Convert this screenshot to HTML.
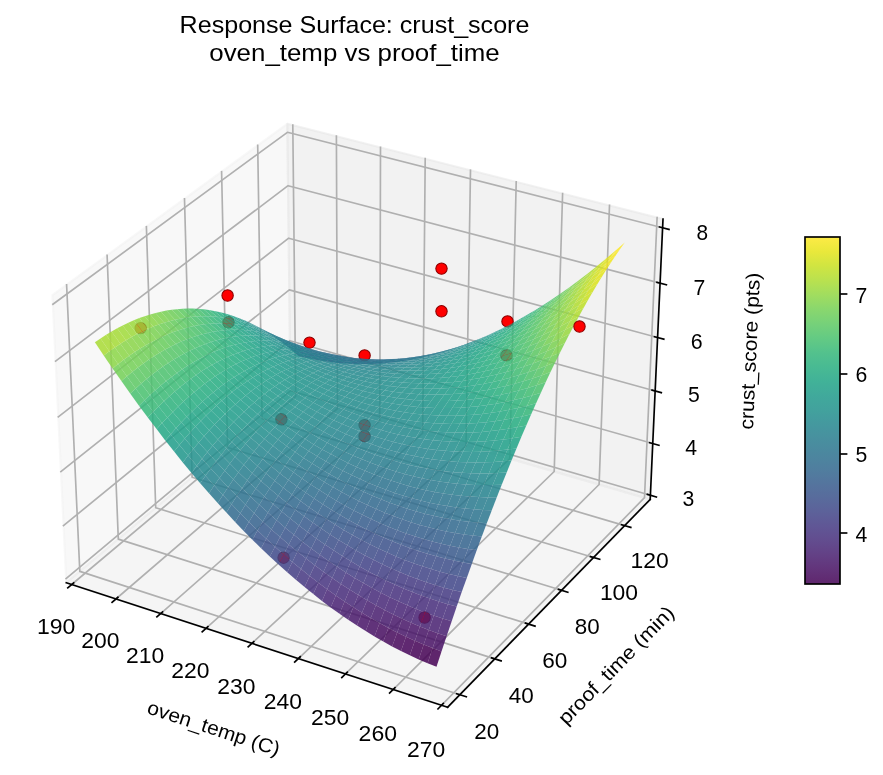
<!DOCTYPE html>
<html lang="en">
<head>
<meta charset="utf-8">
<title>Response Surface: crust_score</title>
<style>
html,body{margin:0;padding:0;background:#fff}
svg{display:block;will-change:transform}
text{font-family:"Liberation Sans",sans-serif;fill:#000}
</style>
</head>
<body>
<svg width="883" height="775" viewBox="0 0 883 775">
<rect width="883" height="775" fill="#fff"/>
<g id="panes">
<polygon points="66.3,582.7 290.5,394.8 287.3,123.8 52.4,295.2" fill="#f2f2f2" fill-opacity="0.5" stroke="#f2f2f2" stroke-opacity="0.5" stroke-width="2.08" stroke-linejoin="round"/>
<polygon points="290.5,394.8 650.2,499.4 663,219 287.3,123.8" fill="#e6e6e6" fill-opacity="0.5" stroke="#e6e6e6" stroke-opacity="0.5" stroke-width="2.08" stroke-linejoin="round"/>
<polygon points="66.3,582.7 447.6,707.3 650.2,499.4 290.5,394.8" fill="#ececec" fill-opacity="0.5" stroke="#ececec" stroke-opacity="0.5" stroke-width="2.08" stroke-linejoin="round"/>
</g>
<g id="grid" fill="none" stroke="#b0b0b0" stroke-width="1.67" stroke-linejoin="round" stroke-linecap="square">
<polyline points="71.7,584.5 295.7,396.3 292.8,125.2"/>
<polyline points="115.9,599 337.5,408.5 336.4,136.2"/>
<polyline points="160.7,613.6 379.8,420.8 380.5,147.4"/>
<polyline points="206,628.4 422.7,433.2 425.2,158.7"/>
<polyline points="251.9,643.4 466,445.8 470.5,170.2"/>
<polyline points="298.4,658.5 509.8,458.6 516.2,181.8"/>
<polyline points="345.5,673.9 554.2,471.5 562.6,193.6"/>
<polyline points="393.2,689.5 599.1,484.5 609.5,205.4"/>
<polyline points="441.5,705.3 644.5,497.7 657.1,217.5"/>
<polyline points="66.6,284.9 79.8,571.4 459.9,694.7"/>
<polyline points="107.1,255.3 118.3,539.1 494.8,658.9"/>
<polyline points="146.4,226.7 155.7,507.7 528.7,624.1"/>
<polyline points="184.5,198.8 192.1,477.2 561.6,590.3"/>
<polyline points="221.6,171.7 227.6,447.5 593.6,557.5"/>
<polyline points="257.7,145.4 262.1,418.6 624.7,525.6"/>
<polyline points="650.4,495.3 290.4,390.8 66.1,578.5"/>
<polyline points="652.8,443.5 289.8,340.7 63.5,525.6"/>
<polyline points="655.2,391 289.3,289.9 60.9,471.7"/>
<polyline points="657.6,337.5 288.7,238.2 58.3,416.9"/>
<polyline points="660.1,283.1 288.1,185.7 55.6,361.1"/>
<polyline points="662.6,227.8 287.4,132.3 52.9,304.3"/>
</g>
<g id="axes" fill="none" stroke="#000" stroke-width="1.67" stroke-linecap="square">
<path d="M66.3 582.7L447.6 707.3"/>
<path d="M650.2 499.4L447.6 707.3"/>
<path d="M650.2 499.4L663 219"/>
</g>
<g id="ticks" fill="none" stroke="#000" stroke-width="1.67" stroke-linecap="square">
<path d="M73.7 582.9L67.8 587.8"/>
<path d="M117.9 597.3L112.1 602.3"/>
<path d="M162.6 611.9L156.9 616.9"/>
<path d="M207.9 626.7L202.2 631.8"/>
<path d="M253.8 641.6L248.2 646.8"/>
<path d="M300.2 656.8L294.7 662"/>
<path d="M347.3 672.2L341.8 677.5"/>
<path d="M395 687.7L389.6 693.1"/>
<path d="M443.3 703.5L438 708.9"/>
<path d="M456.7 693.7L466.3 696.8"/>
<path d="M491.6 657.9L501.1 660.9"/>
<path d="M525.5 623.1L535 626.1"/>
<path d="M558.5 589.4L567.8 592.2"/>
<path d="M590.5 556.6L599.7 559.3"/>
<path d="M621.6 524.7L630.8 527.4"/>
<path d="M647.4 494.4L656.4 497"/>
<path d="M649.7 442.7L658.9 445.3"/>
<path d="M652.1 390.1L661.3 392.7"/>
<path d="M654.5 336.7L663.8 339.2"/>
<path d="M657 282.3L666.4 284.8"/>
<path d="M659.5 227L669 229.4"/>
</g>
<g id="ticklabels" font-size="22.1" text-anchor="middle">
<text x="56.1" y="633.7" textLength="38.4" lengthAdjust="spacingAndGlyphs">190</text>
<text x="100.3" y="648.4" textLength="38.2" lengthAdjust="spacingAndGlyphs">200</text>
<text x="145.1" y="663.3" textLength="38.2" lengthAdjust="spacingAndGlyphs">210</text>
<text x="190.4" y="678.3" textLength="38.2" lengthAdjust="spacingAndGlyphs">220</text>
<text x="236.4" y="693.6" textLength="38.2" lengthAdjust="spacingAndGlyphs">230</text>
<text x="282.9" y="709" textLength="38.2" lengthAdjust="spacingAndGlyphs">240</text>
<text x="330.1" y="724.7" textLength="38.2" lengthAdjust="spacingAndGlyphs">250</text>
<text x="377.8" y="740.5" textLength="38.4" lengthAdjust="spacingAndGlyphs">260</text>
<text x="426.2" y="756.6" textLength="38.2" lengthAdjust="spacingAndGlyphs">270</text>
<text x="486.7" y="739.3" textLength="25" lengthAdjust="spacingAndGlyphs">20</text>
<text x="521.2" y="703" textLength="25" lengthAdjust="spacingAndGlyphs">40</text>
<text x="554.8" y="667.8" textLength="25.1" lengthAdjust="spacingAndGlyphs">60</text>
<text x="587.3" y="633.6" textLength="24.9" lengthAdjust="spacingAndGlyphs">80</text>
<text x="619" y="600.4" textLength="38.2" lengthAdjust="spacingAndGlyphs">100</text>
<text x="649.7" y="568.1" textLength="38.2" lengthAdjust="spacingAndGlyphs">120</text>
<text x="688.5" y="506.4" textLength="11.8" lengthAdjust="spacingAndGlyphs">3</text>
<text x="691.1" y="454.8" textLength="11.8" lengthAdjust="spacingAndGlyphs">4</text>
<text x="693.9" y="402.3" textLength="11.8" lengthAdjust="spacingAndGlyphs">5</text>
<text x="696.6" y="348.9" textLength="11.9" lengthAdjust="spacingAndGlyphs">6</text>
<text x="699.4" y="294.7" textLength="11.8" lengthAdjust="spacingAndGlyphs">7</text>
<text x="702.3" y="239.5" textLength="11.6" lengthAdjust="spacingAndGlyphs">8</text>
</g>
<g id="points" fill="#ff0000" stroke="#8b0000" stroke-width="1.04">
<circle cx="140.7" cy="328.1" r="5.7"/>
<circle cx="227.6" cy="295.5" r="5.7"/>
<circle cx="228.5" cy="322.3" r="5.7"/>
<circle cx="281.4" cy="419.3" r="5.7"/>
<circle cx="283.6" cy="557.7" r="5.7"/>
<circle cx="309.5" cy="342.6" r="5.7"/>
<circle cx="364.6" cy="355.4" r="5.7"/>
<circle cx="364.6" cy="425.1" r="5.7"/>
<circle cx="364.6" cy="436.2" r="5.7"/>
<circle cx="424.6" cy="617.5" r="5.7"/>
<circle cx="441.5" cy="268.6" r="5.7"/>
<circle cx="441.5" cy="311.3" r="5.7"/>
<circle cx="507.5" cy="321.4" r="5.7"/>
<circle cx="506.4" cy="355.4" r="5.7"/>
</g>
<g id="surface" fill-opacity=".85" stroke="none">
<path d="M293.9 352L301.7 354.1L306.5 358L298.7 356.2Z" fill="#443b84"/>
<path d="M301.7 354.1L309.6 355.9L314.3 359.6L306.5 358Z" fill="#433d84"/>
<path d="M309.6 355.9L317.5 357.5L322.2 360.9L314.3 359.6Z" fill="#433e85"/>
<path d="M289.1 348L297 350.4L301.7 354.1L293.9 352Z" fill="#404688"/>
<path d="M317.5 357.5L325.3 358.9L330 362L322.2 360.9Z" fill="#423f85"/>
<path d="M297 350.4L304.8 352.5L309.6 355.9L301.7 354.1Z" fill="#3f4788"/>
<path d="M325.3 358.9L333.3 360L337.9 362.9L330 362Z" fill="#424086"/>
<path d="M304.8 352.5L312.7 354.3L317.5 357.5L309.6 355.9Z" fill="#3f4788"/>
<path d="M333.3 360L341.2 360.9L345.8 363.5L337.9 362.9Z" fill="#424186"/>
<path d="M284.3 344.2L292.2 346.8L297 350.4L289.1 348Z" fill="#3c508b"/>
<path d="M312.7 354.3L320.6 356L325.3 358.9L317.5 357.5Z" fill="#3f4889"/>
<path d="M292.2 346.8L300.1 349.2L304.8 352.5L297 350.4Z" fill="#3c508b"/>
<path d="M341.2 360.9L349.1 361.6L353.8 363.9L345.8 363.5Z" fill="#414487"/>
<path d="M320.6 356L328.6 357.4L333.3 360L325.3 358.9Z" fill="#3e4989"/>
<path d="M300.1 349.2L308 351.3L312.7 354.3L304.8 352.5Z" fill="#3c508b"/>
<path d="M349.1 361.6L357.1 362L361.7 364.1L353.8 363.9Z" fill="#404688"/>
<path d="M328.6 357.4L336.5 358.5L341.2 360.9L333.3 360Z" fill="#3e4a89"/>
<path d="M279.4 340.6L287.3 343.5L292.2 346.8L284.3 344.2Z" fill="#375a8c"/>
<path d="M308 351.3L315.9 353.2L320.6 356L312.7 354.3Z" fill="#3b518b"/>
<path d="M357.1 362L365.1 362.2L369.7 364L361.7 364.1Z" fill="#3e4989"/>
<path d="M287.3 343.5L295.3 346.1L300.1 349.2L292.2 346.8Z" fill="#38598c"/>
<path d="M336.5 358.5L344.5 359.4L349.1 361.6L341.2 360.9Z" fill="#3e4c8a"/>
<path d="M315.9 353.2L323.8 354.9L328.6 357.4L320.6 356Z" fill="#3b518b"/>
<path d="M295.3 346.1L303.2 348.5L308 351.3L300.1 349.2Z" fill="#38598c"/>
<path d="M344.5 359.4L352.4 360.1L357.1 362L349.1 361.6Z" fill="#3d4e8a"/>
<path d="M365.1 362.2L373.1 362.1L377.7 363.7L369.7 364Z" fill="#3e4c8a"/>
<path d="M323.8 354.9L331.8 356.3L336.5 358.5L328.6 357.4Z" fill="#3b528b"/>
<path d="M274.6 337.2L282.5 340.3L287.3 343.5L279.4 340.6Z" fill="#33628d"/>
<path d="M303.2 348.5L311.1 350.7L315.9 353.2L308 351.3Z" fill="#38598c"/>
<path d="M352.4 360.1L360.4 360.6L365.1 362.2L357.1 362Z" fill="#3c508b"/>
<path d="M331.8 356.3L339.8 357.5L344.5 359.4L336.5 358.5Z" fill="#3a538b"/>
<path d="M373.1 362.1L381.1 361.8L385.7 363.1L377.7 363.7Z" fill="#3c4f8a"/>
<path d="M282.5 340.3L290.4 343.2L295.3 346.1L287.3 343.5Z" fill="#34618d"/>
<path d="M311.1 350.7L319.1 352.6L323.8 354.9L315.9 353.2Z" fill="#375a8c"/>
<path d="M290.4 343.2L298.4 345.9L303.2 348.5L295.3 346.1Z" fill="#34618d"/>
<path d="M360.4 360.6L368.5 360.8L373.1 362.1L365.1 362.2Z" fill="#3a538b"/>
<path d="M339.8 357.5L347.8 358.4L352.4 360.1L344.5 359.4Z" fill="#39558c"/>
<path d="M381.1 361.8L389.2 361.3L393.7 362.3L385.7 363.1Z" fill="#3a538b"/>
<path d="M319.1 352.6L327.1 354.3L331.8 356.3L323.8 354.9Z" fill="#375a8c"/>
<path d="M269.7 333.9L277.6 337.4L282.5 340.3L274.6 337.2Z" fill="#306a8e"/>
<path d="M298.4 345.9L306.3 348.3L311.1 350.7L303.2 348.5Z" fill="#34618d"/>
<path d="M347.8 358.4L355.8 359.2L360.4 360.6L352.4 360.1Z" fill="#38588c"/>
<path d="M368.5 360.8L376.5 360.7L381.1 361.8L373.1 362.1Z" fill="#39558c"/>
<path d="M327.1 354.3L335.1 355.8L339.8 357.5L331.8 356.3Z" fill="#375b8d"/>
<path d="M277.6 337.4L285.6 340.5L290.4 343.2L282.5 340.3Z" fill="#30698e"/>
<path d="M389.2 361.3L397.3 360.5L401.8 361.2L393.7 362.3Z" fill="#39568c"/>
<path d="M306.3 348.3L314.3 350.5L319.1 352.6L311.1 350.7Z" fill="#34618d"/>
<path d="M355.8 359.2L363.8 359.6L368.5 360.8L360.4 360.6Z" fill="#375a8c"/>
<path d="M285.6 340.5L293.5 343.5L298.4 345.9L290.4 343.2Z" fill="#31688e"/>
<path d="M335.1 355.8L343.1 357L347.8 358.4L339.8 357.5Z" fill="#365c8d"/>
<path d="M376.5 360.7L384.6 360.4L389.2 361.3L381.1 361.8Z" fill="#38598c"/>
<path d="M314.3 350.5L322.3 352.5L327.1 354.3L319.1 352.6Z" fill="#34618d"/>
<path d="M397.3 360.5L405.4 359.4L409.9 359.9L401.8 361.2Z" fill="#375b8d"/>
<path d="M293.5 343.5L301.5 346.2L306.3 348.3L298.4 345.9Z" fill="#31688e"/>
<path d="M264.7 330.9L272.7 334.6L277.6 337.4L269.7 333.9Z" fill="#2c718e"/>
<path d="M343.1 357L351.1 357.9L355.8 359.2L347.8 358.4Z" fill="#355e8d"/>
<path d="M363.8 359.6L371.9 359.8L376.5 360.7L368.5 360.8Z" fill="#365c8d"/>
<path d="M322.3 352.5L330.3 354.2L335.1 355.8L327.1 354.3Z" fill="#33628d"/>
<path d="M384.6 360.4L392.7 359.9L397.3 360.5L389.2 361.3Z" fill="#365d8d"/>
<path d="M272.7 334.6L280.7 338L285.6 340.5L277.6 337.4Z" fill="#2d708e"/>
<path d="M301.5 346.2L309.5 348.6L314.3 350.5L306.3 348.3Z" fill="#31678e"/>
<path d="M405.4 359.4L413.5 358.2L418 358.4L409.9 359.9Z" fill="#355f8d"/>
<path d="M351.1 357.9L359.2 358.7L363.8 359.6L355.8 359.2Z" fill="#34608d"/>
<path d="M330.3 354.2L338.4 355.7L343.1 357L335.1 355.8Z" fill="#33638d"/>
<path d="M371.9 359.8L380 359.8L384.6 360.4L376.5 360.7Z" fill="#355f8d"/>
<path d="M280.7 338L288.7 341.2L293.5 343.5L285.6 340.5Z" fill="#2e6f8e"/>
<path d="M309.5 348.6L317.5 350.9L322.3 352.5L314.3 350.5Z" fill="#31688e"/>
<path d="M392.7 359.9L400.8 359.1L405.4 359.4L397.3 360.5Z" fill="#34608d"/>
<path d="M288.7 341.2L296.7 344.2L301.5 346.2L293.5 343.5Z" fill="#2e6f8e"/>
<path d="M259.8 328L267.8 332L272.7 334.6L264.7 330.9Z" fill="#2a788e"/>
<path d="M338.4 355.7L346.4 356.9L351.1 357.9L343.1 357Z" fill="#32648e"/>
<path d="M359.2 358.7L367.3 359.1L371.9 359.8L363.8 359.6Z" fill="#33628d"/>
<path d="M413.5 358.2L421.7 356.6L426.2 356.6L418 358.4Z" fill="#33638d"/>
<path d="M317.5 350.9L325.6 352.8L330.3 354.2L322.3 352.5Z" fill="#31688e"/>
<path d="M380 359.8L388.1 359.5L392.7 359.9L384.6 360.4Z" fill="#33628d"/>
<path d="M267.8 332L275.8 335.7L280.7 338L272.7 334.6Z" fill="#2a778e"/>
<path d="M296.7 344.2L304.7 346.9L309.5 348.6L301.5 346.2Z" fill="#2e6e8e"/>
<path d="M400.8 359.1L409 358.1L413.5 358.2L405.4 359.4Z" fill="#32648e"/>
<path d="M346.4 356.9L354.5 357.9L359.2 358.7L351.1 357.9Z" fill="#32658e"/>
<path d="M367.3 359.1L375.4 359.4L380 359.8L371.9 359.8Z" fill="#32648e"/>
<path d="M325.6 352.8L333.6 354.6L338.4 355.7L330.3 354.2Z" fill="#30698e"/>
<path d="M275.8 335.7L283.8 339.2L288.7 341.2L280.7 338Z" fill="#2b758e"/>
<path d="M421.7 356.6L429.9 354.8L434.4 354.6L426.2 356.6Z" fill="#31688e"/>
<path d="M388.1 359.5L396.2 359L400.8 359.1L392.7 359.9Z" fill="#32658e"/>
<path d="M304.7 346.9L312.7 349.4L317.5 350.9L309.5 348.6Z" fill="#2e6e8e"/>
<path d="M409 358.1L417.1 356.8L421.7 356.6L413.5 358.2Z" fill="#31688e"/>
<path d="M283.8 339.2L291.8 342.4L296.7 344.2L288.7 341.2Z" fill="#2b748e"/>
<path d="M354.5 357.9L362.6 358.7L367.3 359.1L359.2 358.7Z" fill="#31678e"/>
<path d="M333.6 354.6L341.7 356.1L346.4 356.9L338.4 355.7Z" fill="#30698e"/>
<path d="M254.8 325.3L262.8 329.6L267.8 332L259.8 328Z" fill="#27808e"/>
<path d="M375.4 359.4L383.5 359.4L388.1 359.5L380 359.8Z" fill="#31678e"/>
<path d="M312.7 349.4L320.8 351.7L325.6 352.8L317.5 350.9Z" fill="#2e6e8e"/>
<path d="M396.2 359L404.4 358.3L409 358.1L400.8 359.1Z" fill="#31688e"/>
<path d="M429.9 354.8L438.1 352.8L442.6 352.3L434.4 354.6Z" fill="#2e6d8e"/>
<path d="M291.8 342.4L299.9 345.4L304.7 346.9L296.7 344.2Z" fill="#2c738e"/>
<path d="M262.8 329.6L270.8 333.6L275.8 335.7L267.8 332Z" fill="#277e8e"/>
<path d="M341.7 356.1L349.8 357.4L354.5 357.9L346.4 356.9Z" fill="#2f6b8e"/>
<path d="M362.6 358.7L370.7 359.2L375.4 359.4L367.3 359.1Z" fill="#30698e"/>
<path d="M320.8 351.7L328.9 353.7L333.6 354.6L325.6 352.8Z" fill="#2e6e8e"/>
<path d="M417.1 356.8L425.4 355.3L429.9 354.8L421.7 356.6Z" fill="#2f6c8e"/>
<path d="M383.5 359.4L391.6 359.1L396.2 359L388.1 359.5Z" fill="#30698e"/>
<path d="M270.8 333.6L278.9 337.3L283.8 339.2L275.8 335.7Z" fill="#287c8e"/>
<path d="M299.9 345.4L307.9 348.2L312.7 349.4L304.7 346.9Z" fill="#2c738e"/>
<path d="M404.4 358.3L412.6 357.3L417.1 356.8L409 358.1Z" fill="#2f6c8e"/>
<path d="M349.8 357.4L357.9 358.4L362.6 358.7L354.5 357.9Z" fill="#2f6c8e"/>
<path d="M438.1 352.8L446.4 350.5L450.9 349.7L442.6 352.3Z" fill="#2c718e"/>
<path d="M328.9 353.7L336.9 355.5L341.7 356.1L333.6 354.6Z" fill="#2e6f8e"/>
<path d="M370.7 359.2L378.8 359.4L383.5 359.4L375.4 359.4Z" fill="#2f6b8e"/>
<path d="M278.9 337.3L286.9 340.8L291.8 342.4L283.8 339.2Z" fill="#297b8e"/>
<path d="M249.8 322.8L257.8 327.3L262.8 329.6L254.8 325.3Z" fill="#24868e"/>
<path d="M307.9 348.2L316 350.7L320.8 351.7L312.7 349.4Z" fill="#2c738e"/>
<path d="M391.6 359.1L399.8 358.7L404.4 358.3L396.2 359Z" fill="#2e6d8e"/>
<path d="M425.4 355.3L433.6 353.6L438.1 352.8L429.9 354.8Z" fill="#2d718e"/>
<path d="M286.9 340.8L295 344.1L299.9 345.4L291.8 342.4Z" fill="#297a8e"/>
<path d="M257.8 327.3L265.9 331.6L270.8 333.6L262.8 329.6Z" fill="#25848e"/>
<path d="M336.9 355.5L345 357L349.8 357.4L341.7 356.1Z" fill="#2d708e"/>
<path d="M357.9 358.4L366 359.2L370.7 359.2L362.6 358.7Z" fill="#2e6e8e"/>
<path d="M412.6 357.3L420.8 356L425.4 355.3L417.1 356.8Z" fill="#2d708e"/>
<path d="M316 350.7L324.1 353L328.9 353.7L320.8 351.7Z" fill="#2c738e"/>
<path d="M378.8 359.4L387 359.5L391.6 359.1L383.5 359.4Z" fill="#2e6e8e"/>
<path d="M446.4 350.5L454.7 348L459.1 346.9L450.9 349.7Z" fill="#2a768e"/>
<path d="M265.9 331.6L273.9 335.7L278.9 337.3L270.8 333.6Z" fill="#26828e"/>
<path d="M295 344.1L303.1 347.2L307.9 348.2L299.9 345.4Z" fill="#29798e"/>
<path d="M399.8 358.7L408 357.9L412.6 357.3L404.4 358.3Z" fill="#2d708e"/>
<path d="M433.6 353.6L441.9 351.5L446.4 350.5L438.1 352.8Z" fill="#2b748e"/>
<path d="M345 357L353.2 358.3L357.9 358.4L349.8 357.4Z" fill="#2d718e"/>
<path d="M366 359.2L374.2 359.7L378.8 359.4L370.7 359.2Z" fill="#2d708e"/>
<path d="M324.1 353L332.2 355.1L336.9 355.5L328.9 353.7Z" fill="#2c738e"/>
<path d="M273.9 335.7L282 339.5L286.9 340.8L278.9 337.3Z" fill="#26818e"/>
<path d="M420.8 356L429.1 354.5L433.6 353.6L425.4 355.3Z" fill="#2c738e"/>
<path d="M387 359.5L395.2 359.2L399.8 358.7L391.6 359.1Z" fill="#2d718e"/>
<path d="M303.1 347.2L311.2 350L316 350.7L307.9 348.2Z" fill="#2a788e"/>
<path d="M244.8 320.5L252.8 325.3L257.8 327.3L249.8 322.8Z" fill="#228d8d"/>
<path d="M454.7 348L463 345.2L467.5 343.9L459.1 346.9Z" fill="#287c8e"/>
<path d="M408 357.9L416.2 356.9L420.8 356L412.6 357.3Z" fill="#2c738e"/>
<path d="M282 339.5L290.1 343L295 344.1L286.9 340.8Z" fill="#27808e"/>
<path d="M353.2 358.3L361.3 359.4L366 359.2L357.9 358.4Z" fill="#2c718e"/>
<path d="M332.2 355.1L340.3 356.9L345 357L336.9 355.5Z" fill="#2b748e"/>
<path d="M252.8 325.3L260.9 329.9L265.9 331.6L257.8 327.3Z" fill="#238a8d"/>
<path d="M374.2 359.7L382.3 360L387 359.5L378.8 359.4Z" fill="#2c718e"/>
<path d="M311.2 350L319.3 352.5L324.1 353L316 350.7Z" fill="#2a788e"/>
<path d="M441.9 351.5L450.2 349.3L454.7 348L446.4 350.5Z" fill="#297a8e"/>
<path d="M395.2 359.2L403.4 358.8L408 357.9L399.8 358.7Z" fill="#2c738e"/>
<path d="M290.1 343L298.2 346.3L303.1 347.2L295 344.1Z" fill="#277e8e"/>
<path d="M429.1 354.5L437.3 352.8L441.9 351.5L433.6 353.6Z" fill="#2a788e"/>
<path d="M260.9 329.9L269 334.2L273.9 335.7L265.9 331.6Z" fill="#23888e"/>
<path d="M340.3 356.9L348.4 358.4L353.2 358.3L345 357Z" fill="#2b748e"/>
<path d="M361.3 359.4L369.5 360.2L374.2 359.7L366 359.2Z" fill="#2c738e"/>
<path d="M319.3 352.5L327.4 354.9L332.2 355.1L324.1 353Z" fill="#2a788e"/>
<path d="M416.2 356.9L424.5 355.7L429.1 354.5L420.8 356Z" fill="#2a778e"/>
<path d="M382.3 360L390.5 360L395.2 359.2L387 359.5Z" fill="#2b748e"/>
<path d="M269 334.2L277.1 338.3L282 339.5L273.9 335.7Z" fill="#24868e"/>
<path d="M463 345.2L471.4 342.1L475.8 340.5L467.5 343.9Z" fill="#26828e"/>
<path d="M298.2 346.3L306.3 349.4L311.2 350L303.1 347.2Z" fill="#277e8e"/>
<path d="M450.2 349.3L458.5 346.7L463 345.2L454.7 348Z" fill="#277f8e"/>
<path d="M239.7 318.4L247.8 323.5L252.8 325.3L244.8 320.5Z" fill="#20928c"/>
<path d="M403.4 358.8L411.6 358.1L416.2 356.9L408 357.9Z" fill="#2a768e"/>
<path d="M348.4 358.4L356.6 359.8L361.3 359.4L353.2 358.3Z" fill="#2a768e"/>
<path d="M327.4 354.9L335.5 356.9L340.3 356.9L332.2 355.1Z" fill="#2a788e"/>
<path d="M277.1 338.3L285.2 342.1L290.1 343L282 339.5Z" fill="#25848e"/>
<path d="M369.5 360.2L377.7 360.7L382.3 360L374.2 359.7Z" fill="#2b758e"/>
<path d="M437.3 352.8L445.6 350.8L450.2 349.3L441.9 351.5Z" fill="#287d8e"/>
<path d="M306.3 349.4L314.4 352.3L319.3 352.5L311.2 350Z" fill="#287d8e"/>
<path d="M247.8 323.5L255.9 328.3L260.9 329.9L252.8 325.3Z" fill="#21918c"/>
<path d="M390.5 360L398.8 359.8L403.4 358.8L395.2 359.2Z" fill="#2a768e"/>
<path d="M424.5 355.7L432.8 354.2L437.3 352.8L429.1 354.5Z" fill="#297b8e"/>
<path d="M285.2 342.1L293.3 345.7L298.2 346.3L290.1 343Z" fill="#25838e"/>
<path d="M255.9 328.3L264 332.9L269 334.2L260.9 329.9Z" fill="#218e8d"/>
<path d="M335.5 356.9L343.7 358.8L348.4 358.4L340.3 356.9Z" fill="#29798e"/>
<path d="M356.6 359.8L364.8 360.8L369.5 360.2L361.3 359.4Z" fill="#2a778e"/>
<path d="M471.4 342.1L479.8 338.8L484.2 337L475.8 340.5Z" fill="#24878e"/>
<path d="M411.6 358.1L419.9 357.1L424.5 355.7L416.2 356.9Z" fill="#297a8e"/>
<path d="M314.4 352.3L322.6 354.9L327.4 354.9L319.3 352.5Z" fill="#287d8e"/>
<path d="M377.7 360.7L385.9 361.1L390.5 360L382.3 360Z" fill="#2a778e"/>
<path d="M458.5 346.7L466.9 344L471.4 342.1L463 345.2Z" fill="#25848e"/>
<path d="M264 332.9L272.1 337.3L277.1 338.3L269 334.2Z" fill="#228c8d"/>
<path d="M293.3 345.7L301.4 349.1L306.3 349.4L298.2 346.3Z" fill="#26828e"/>
<path d="M445.6 350.8L454 348.5L458.5 346.7L450.2 349.3Z" fill="#26828e"/>
<path d="M398.8 359.8L407 359.4L411.6 358.1L403.4 358.8Z" fill="#29798e"/>
<path d="M343.7 358.8L351.8 360.4L356.6 359.8L348.4 358.4Z" fill="#297a8e"/>
<path d="M432.8 354.2L441.1 352.5L445.6 350.8L437.3 352.8Z" fill="#277f8e"/>
<path d="M234.6 316.5L242.7 321.9L247.8 323.5L239.7 318.4Z" fill="#1f998a"/>
<path d="M322.6 354.9L330.7 357.2L335.5 356.9L327.4 354.9Z" fill="#287d8e"/>
<path d="M364.8 360.8L373 361.7L377.7 360.7L369.5 360.2Z" fill="#29798e"/>
<path d="M272.1 337.3L280.2 341.4L285.2 342.1L277.1 338.3Z" fill="#238a8d"/>
<path d="M301.4 349.1L309.6 352.2L314.4 352.3L306.3 349.4Z" fill="#26828e"/>
<path d="M385.9 361.1L394.1 361.1L398.8 359.8L390.5 360Z" fill="#297a8e"/>
<path d="M419.9 357.1L428.2 355.9L432.8 354.2L424.5 355.7Z" fill="#277e8e"/>
<path d="M242.7 321.9L250.9 327L255.9 328.3L247.8 323.5Z" fill="#1f968b"/>
<path d="M479.8 338.8L488.2 335.3L492.7 333.1L484.2 337Z" fill="#218e8d"/>
<path d="M466.9 344L475.3 340.9L479.8 338.8L471.4 342.1Z" fill="#238a8d"/>
<path d="M280.2 341.4L288.4 345.3L293.3 345.7L285.2 342.1Z" fill="#23888e"/>
<path d="M351.8 360.4L360 361.7L364.8 360.8L356.6 359.8Z" fill="#297b8e"/>
<path d="M330.7 357.2L338.9 359.3L343.7 358.8L335.5 356.9Z" fill="#287d8e"/>
<path d="M407 359.4L415.3 358.7L419.9 357.1L411.6 358.1Z" fill="#287d8e"/>
<path d="M454 348.5L462.4 346L466.9 344L458.5 346.7Z" fill="#24868e"/>
<path d="M250.9 327L259 331.9L264 332.9L255.9 328.3Z" fill="#20938c"/>
<path d="M373 361.7L381.2 362.3L385.9 361.1L377.7 360.7Z" fill="#297b8e"/>
<path d="M309.6 352.2L317.7 355.1L322.6 354.9L314.4 352.3Z" fill="#26818e"/>
<path d="M441.1 352.5L449.5 350.5L454 348.5L445.6 350.8Z" fill="#25838e"/>
<path d="M394.1 361.1L402.4 360.9L407 359.4L398.8 359.8Z" fill="#287c8e"/>
<path d="M288.4 345.3L296.5 348.9L301.4 349.1L293.3 345.7Z" fill="#24878e"/>
<path d="M259 331.9L267.1 336.5L272.1 337.3L264 332.9Z" fill="#21918c"/>
<path d="M428.2 355.9L436.5 354.4L441.1 352.5L432.8 354.2Z" fill="#26828e"/>
<path d="M338.9 359.3L347.1 361.2L351.8 360.4L343.7 358.8Z" fill="#287d8e"/>
<path d="M360 361.7L368.2 362.8L373 361.7L364.8 360.8Z" fill="#287c8e"/>
<path d="M317.7 355.1L325.9 357.7L330.7 357.2L322.6 354.9Z" fill="#26818e"/>
<path d="M229.5 314.8L237.7 320.5L242.7 321.9L234.6 316.5Z" fill="#1f9f88"/>
<path d="M488.2 335.3L496.7 331.4L501.1 329L492.7 333.1Z" fill="#1f948c"/>
<path d="M381.2 362.3L389.4 362.6L394.1 361.1L385.9 361.1Z" fill="#287d8e"/>
<path d="M415.3 358.7L423.6 357.8L428.2 355.9L419.9 357.1Z" fill="#27808e"/>
<path d="M267.1 336.5L275.3 340.9L280.2 341.4L272.1 337.3Z" fill="#218f8d"/>
<path d="M475.3 340.9L483.7 337.6L488.2 335.3L479.8 338.8Z" fill="#21908d"/>
<path d="M296.5 348.9L304.7 352.3L309.6 352.2L301.4 349.1Z" fill="#25858e"/>
<path d="M462.4 346L470.8 343.2L475.3 340.9L466.9 344Z" fill="#228c8d"/>
<path d="M237.7 320.5L245.8 325.9L250.9 327L242.7 321.9Z" fill="#1e9c89"/>
<path d="M402.4 360.9L410.7 360.5L415.3 358.7L407 359.4Z" fill="#27808e"/>
<path d="M347.1 361.2L355.3 362.8L360 361.7L351.8 360.4Z" fill="#277e8e"/>
<path d="M449.5 350.5L457.8 348.2L462.4 346L454 348.5Z" fill="#23888e"/>
<path d="M325.9 357.7L334.1 360.1L338.9 359.3L330.7 357.2Z" fill="#26818e"/>
<path d="M275.3 340.9L283.4 345.1L288.4 345.3L280.2 341.4Z" fill="#228d8d"/>
<path d="M368.2 362.8L376.5 363.7L381.2 362.3L373 361.7Z" fill="#277e8e"/>
<path d="M304.7 352.3L312.8 355.5L317.7 355.1L309.6 352.2Z" fill="#25848e"/>
<path d="M436.5 354.4L444.9 352.7L449.5 350.5L441.1 352.5Z" fill="#24868e"/>
<path d="M245.8 325.9L254 331L259 331.9L250.9 327Z" fill="#1f988b"/>
<path d="M389.4 362.6L397.7 362.7L402.4 360.9L394.1 361.1Z" fill="#277f8e"/>
<path d="M423.6 357.8L431.9 356.6L436.5 354.4L428.2 355.9Z" fill="#25838e"/>
<path d="M283.4 345.1L291.6 349L296.5 348.9L288.4 345.3Z" fill="#228b8d"/>
<path d="M334.1 360.1L342.3 362.3L347.1 361.2L338.9 359.3Z" fill="#26818e"/>
<path d="M254 331L262.1 336L267.1 336.5L259 331.9Z" fill="#1f968b"/>
<path d="M355.3 362.8L363.5 364.2L368.2 362.8L360 361.7Z" fill="#277f8e"/>
<path d="M496.7 331.4L505.2 327.3L509.7 324.7L501.1 329Z" fill="#1e9b8a"/>
<path d="M312.8 355.5L321 358.4L325.9 357.7L317.7 355.1Z" fill="#25848e"/>
<path d="M483.7 337.6L492.2 334L496.7 331.4L488.2 335.3Z" fill="#1f958b"/>
<path d="M410.7 360.5L419 359.9L423.6 357.8L415.3 358.7Z" fill="#26828e"/>
<path d="M376.5 363.7L384.7 364.3L389.4 362.6L381.2 362.3Z" fill="#27808e"/>
<path d="M470.8 343.2L479.2 340.2L483.7 337.6L475.3 340.9Z" fill="#20928c"/>
<path d="M457.8 348.2L466.3 345.7L470.8 343.2L462.4 346Z" fill="#218e8d"/>
<path d="M291.6 349L299.8 352.7L304.7 352.3L296.5 348.9Z" fill="#238a8d"/>
<path d="M262.1 336L270.3 340.7L275.3 340.9L267.1 336.5Z" fill="#20938c"/>
<path d="M224.4 313.3L232.6 319.2L237.7 320.5L229.5 314.8Z" fill="#20a486"/>
<path d="M444.9 352.7L453.3 350.7L457.8 348.2L449.5 350.5Z" fill="#238a8d"/>
<path d="M397.7 362.7L406 362.6L410.7 360.5L402.4 360.9Z" fill="#26828e"/>
<path d="M342.3 362.3L350.5 364.2L355.3 362.8L347.1 361.2Z" fill="#26818e"/>
<path d="M321 358.4L329.2 361.1L334.1 360.1L325.9 357.7Z" fill="#25838e"/>
<path d="M363.5 364.2L371.7 365.4L376.5 363.7L368.2 362.8Z" fill="#26818e"/>
<path d="M232.6 319.2L240.7 324.9L245.8 325.9L237.7 320.5Z" fill="#1fa188"/>
<path d="M431.9 356.6L440.3 355.1L444.9 352.7L436.5 354.4Z" fill="#23888e"/>
<path d="M270.3 340.7L278.5 345.1L283.4 345.1L275.3 340.9Z" fill="#20928c"/>
<path d="M299.8 352.7L308 356.1L312.8 355.5L304.7 352.3Z" fill="#23888e"/>
<path d="M384.7 364.3L393 364.7L397.7 362.7L389.4 362.6Z" fill="#26828e"/>
<path d="M419 359.9L427.3 358.9L431.9 356.6L423.6 357.8Z" fill="#25858e"/>
<path d="M240.7 324.9L248.9 330.4L254 331L245.8 325.9Z" fill="#1f9e89"/>
<path d="M492.2 334L500.8 330.2L505.2 327.3L496.7 331.4Z" fill="#1e9c89"/>
<path d="M505.2 327.3L513.8 323L518.2 320L509.7 324.7Z" fill="#1fa187"/>
<path d="M479.2 340.2L487.7 336.9L492.2 334L483.7 337.6Z" fill="#1f978b"/>
<path d="M278.5 345.1L286.6 349.3L291.6 349L283.4 345.1Z" fill="#21908d"/>
<path d="M329.2 361.1L337.5 363.5L342.3 362.3L334.1 360.1Z" fill="#25838e"/>
<path d="M350.5 364.2L358.7 365.8L363.5 364.2L355.3 362.8Z" fill="#26828e"/>
<path d="M466.3 345.7L474.7 343L479.2 340.2L470.8 343.2Z" fill="#20928c"/>
<path d="M406 362.6L414.3 362.2L419 359.9L410.7 360.5Z" fill="#25848e"/>
<path d="M248.9 330.4L257.1 335.6L262.1 336L254 331Z" fill="#1e9b8a"/>
<path d="M308 356.1L316.2 359.3L321 358.4L312.8 355.5Z" fill="#23888e"/>
<path d="M371.7 365.4L380 366.3L384.7 364.3L376.5 363.7Z" fill="#26828e"/>
<path d="M453.3 350.7L461.7 348.5L466.3 345.7L457.8 348.2Z" fill="#218f8d"/>
<path d="M440.3 355.1L448.7 353.4L453.3 350.7L444.9 352.7Z" fill="#228c8d"/>
<path d="M286.6 349.3L294.8 353.3L299.8 352.7L291.6 349Z" fill="#218e8d"/>
<path d="M393 364.7L401.3 364.8L406 362.6L397.7 362.7Z" fill="#25838e"/>
<path d="M257.1 335.6L265.3 340.6L270.3 340.7L262.1 336Z" fill="#1f988b"/>
<path d="M219.2 312L227.4 318.2L232.6 319.2L224.4 313.3Z" fill="#24aa83"/>
<path d="M337.5 363.5L345.7 365.7L350.5 364.2L342.3 362.3Z" fill="#25848e"/>
<path d="M427.3 358.9L435.7 357.8L440.3 355.1L431.9 356.6Z" fill="#23898e"/>
<path d="M358.7 365.8L367 367.2L371.7 365.4L363.5 364.2Z" fill="#26828e"/>
<path d="M316.2 359.3L324.4 362.3L329.2 361.1L321 358.4Z" fill="#24878e"/>
<path d="M227.4 318.2L235.6 324.2L240.7 324.9L232.6 319.2Z" fill="#21a685"/>
<path d="M380 366.3L388.3 366.9L393 364.7L384.7 364.3Z" fill="#25838e"/>
<path d="M265.3 340.6L273.5 345.3L278.5 345.1L270.3 340.7Z" fill="#1f958b"/>
<path d="M414.3 362.2L422.7 361.5L427.3 358.9L419 359.9Z" fill="#24878e"/>
<path d="M294.8 353.3L303 357L308 356.1L299.8 352.7Z" fill="#228c8d"/>
<path d="M500.8 330.2L509.3 326.1L513.8 323L505.2 327.3Z" fill="#1fa287"/>
<path d="M487.7 336.9L496.3 333.3L500.8 330.2L492.2 334Z" fill="#1e9d89"/>
<path d="M513.8 323L522.4 318.3L526.8 315.1L518.2 320Z" fill="#23a983"/>
<path d="M474.7 343L483.2 340L487.7 336.9L479.2 340.2Z" fill="#1f988b"/>
<path d="M235.6 324.2L243.8 330L248.9 330.4L240.7 324.9Z" fill="#1fa287"/>
<path d="M461.7 348.5L470.2 346L474.7 343L466.3 345.7Z" fill="#1f948c"/>
<path d="M345.7 365.7L353.9 367.6L358.7 365.8L350.5 364.2Z" fill="#25848e"/>
<path d="M324.4 362.3L332.6 365L337.5 363.5L329.2 361.1Z" fill="#24868e"/>
<path d="M401.3 364.8L409.7 364.7L414.3 362.2L406 362.6Z" fill="#24868e"/>
<path d="M273.5 345.3L281.7 349.8L286.6 349.3L278.5 345.1Z" fill="#20938c"/>
<path d="M448.7 353.4L457.1 351.5L461.7 348.5L453.3 350.7Z" fill="#21918c"/>
<path d="M367 367.2L375.3 368.4L380 366.3L371.7 365.4Z" fill="#25848e"/>
<path d="M303 357L311.3 360.5L316.2 359.3L308 356.1Z" fill="#228b8d"/>
<path d="M243.8 330L252 335.5L257.1 335.6L248.9 330.4Z" fill="#1f9f88"/>
<path d="M435.7 357.8L444.1 356.3L448.7 353.4L440.3 355.1Z" fill="#218e8d"/>
<path d="M388.3 366.9L396.6 367.3L401.3 364.8L393 364.7Z" fill="#25858e"/>
<path d="M281.7 349.8L289.9 354L294.8 353.3L286.6 349.3Z" fill="#20928c"/>
<path d="M422.7 361.5L431.1 360.6L435.7 357.8L427.3 358.9Z" fill="#228b8d"/>
<path d="M332.6 365L340.9 367.5L345.7 365.7L337.5 363.5Z" fill="#24868e"/>
<path d="M353.9 367.6L362.2 369.3L367 367.2L358.7 365.8Z" fill="#25858e"/>
<path d="M252 335.5L260.2 340.7L265.3 340.6L257.1 335.6Z" fill="#1e9c89"/>
<path d="M311.3 360.5L319.5 363.7L324.4 362.3L316.2 359.3Z" fill="#238a8d"/>
<path d="M214.1 310.9L222.3 317.4L227.4 318.2L219.2 312Z" fill="#28ae80"/>
<path d="M375.3 368.4L383.6 369.3L388.3 366.9L380 366.3Z" fill="#25858e"/>
<path d="M409.7 364.7L418 364.3L422.7 361.5L414.3 362.2Z" fill="#23898e"/>
<path d="M496.3 333.3L504.8 329.5L509.3 326.1L500.8 330.2Z" fill="#20a386"/>
<path d="M483.2 340L491.7 336.7L496.3 333.3L487.7 336.9Z" fill="#1f9e89"/>
<path d="M509.3 326.1L517.9 321.8L522.4 318.3L513.8 323Z" fill="#23a983"/>
<path d="M470.2 346L478.7 343.2L483.2 340L474.7 343Z" fill="#1f998a"/>
<path d="M289.9 354L298.1 358L303 357L294.8 353.3Z" fill="#21908d"/>
<path d="M260.2 340.7L268.4 345.7L273.5 345.3L265.3 340.6Z" fill="#1f998a"/>
<path d="M522.4 318.3L531 313.4L535.5 309.9L526.8 315.1Z" fill="#29af7f"/>
<path d="M222.3 317.4L230.5 323.7L235.6 324.2L227.4 318.2Z" fill="#25ab82"/>
<path d="M457.1 351.5L465.6 349.2L470.2 346L461.7 348.5Z" fill="#1f958b"/>
<path d="M396.6 367.3L405 367.5L409.7 364.7L401.3 364.8Z" fill="#23888e"/>
<path d="M340.9 367.5L349.1 369.7L353.9 367.6L345.7 365.7Z" fill="#24878e"/>
<path d="M444.1 356.3L452.5 354.6L457.1 351.5L448.7 353.4Z" fill="#20928c"/>
<path d="M319.5 363.7L327.7 366.7L332.6 365L324.4 362.3Z" fill="#23898e"/>
<path d="M362.2 369.3L370.5 370.8L375.3 368.4L367 367.2Z" fill="#24868e"/>
<path d="M230.5 323.7L238.7 329.7L243.8 330L235.6 324.2Z" fill="#22a785"/>
<path d="M268.4 345.7L276.7 350.5L281.7 349.8L273.5 345.3Z" fill="#1f978b"/>
<path d="M431.1 360.6L439.5 359.5L444.1 356.3L435.7 357.8Z" fill="#218f8d"/>
<path d="M298.1 358L306.3 361.8L311.3 360.5L303 357Z" fill="#218e8d"/>
<path d="M383.6 369.3L391.9 370L396.6 367.3L388.3 366.9Z" fill="#24878e"/>
<path d="M238.7 329.7L246.9 335.5L252 335.5L243.8 330Z" fill="#20a386"/>
<path d="M418 364.3L426.4 363.7L431.1 360.6L422.7 361.5Z" fill="#228c8d"/>
<path d="M327.7 366.7L336 369.4L340.9 367.5L332.6 365Z" fill="#23898e"/>
<path d="M276.7 350.5L284.9 355L289.9 354L281.7 349.8Z" fill="#1f948c"/>
<path d="M349.1 369.7L357.4 371.6L362.2 369.3L353.9 367.6Z" fill="#24878e"/>
<path d="M306.3 361.8L314.6 365.3L319.5 363.7L311.3 360.5Z" fill="#228d8d"/>
<path d="M405 367.5L413.3 367.4L418 364.3L409.7 364.7Z" fill="#238a8d"/>
<path d="M246.9 335.5L255.2 341.1L260.2 340.7L252 335.5Z" fill="#1fa188"/>
<path d="M370.5 370.8L378.8 372L383.6 369.3L375.3 368.4Z" fill="#24878e"/>
<path d="M491.7 336.7L500.3 333.1L504.8 329.5L496.3 333.3Z" fill="#20a486"/>
<path d="M478.7 343.2L487.2 340.2L491.7 336.7L483.2 340Z" fill="#1f9f88"/>
<path d="M504.8 329.5L513.4 325.4L517.9 321.8L509.3 326.1Z" fill="#24aa83"/>
<path d="M465.6 349.2L474.1 346.8L478.7 343.2L470.2 346Z" fill="#1f9a8a"/>
<path d="M517.9 321.8L526.6 317.1L531 313.4L522.4 318.3Z" fill="#2ab07f"/>
<path d="M452.5 354.6L461 352.7L465.6 349.2L457.1 351.5Z" fill="#1f968b"/>
<path d="M208.9 310L217.1 316.8L222.3 317.4L214.1 310.9Z" fill="#2fb47c"/>
<path d="M531 313.4L539.7 308.2L544.2 304.5L535.5 309.9Z" fill="#35b779"/>
<path d="M284.9 355L293.2 359.3L298.1 358L289.9 354Z" fill="#20928c"/>
<path d="M391.9 370L400.3 370.4L405 367.5L396.6 367.3Z" fill="#23898e"/>
<path d="M439.5 359.5L447.9 358.1L452.5 354.6L444.1 356.3Z" fill="#20928c"/>
<path d="M255.2 341.1L263.4 346.4L268.4 345.7L260.2 340.7Z" fill="#1e9d89"/>
<path d="M336 369.4L344.3 371.9L349.1 369.7L340.9 367.5Z" fill="#23898e"/>
<path d="M217.1 316.8L225.3 323.4L230.5 323.7L222.3 317.4Z" fill="#29af7f"/>
<path d="M357.4 371.6L365.7 373.4L370.5 370.8L362.2 369.3Z" fill="#23888e"/>
<path d="M314.6 365.3L322.9 368.6L327.7 366.7L319.5 363.7Z" fill="#228c8d"/>
<path d="M426.4 363.7L434.8 362.8L439.5 359.5L431.1 360.6Z" fill="#21908d"/>
<path d="M378.8 372L387.2 372.9L391.9 370L383.6 369.3Z" fill="#23898e"/>
<path d="M263.4 346.4L271.7 351.4L276.7 350.5L268.4 345.7Z" fill="#1f9a8a"/>
<path d="M293.2 359.3L301.4 363.4L306.3 361.8L298.1 358Z" fill="#21918c"/>
<path d="M225.3 323.4L233.6 329.7L238.7 329.7L230.5 323.7Z" fill="#25ab82"/>
<path d="M413.3 367.4L421.7 367L426.4 363.7L418 364.3Z" fill="#228d8d"/>
<path d="M344.3 371.9L352.6 374.2L357.4 371.6L349.1 369.7Z" fill="#23898e"/>
<path d="M233.6 329.7L241.8 335.8L246.9 335.5L238.7 329.7Z" fill="#22a785"/>
<path d="M322.9 368.6L331.1 371.6L336 369.4L327.7 366.7Z" fill="#228b8d"/>
<path d="M487.2 340.2L495.8 337L500.3 333.1L491.7 336.7Z" fill="#20a486"/>
<path d="M474.1 346.8L482.6 344L487.2 340.2L478.7 343.2Z" fill="#1fa088"/>
<path d="M400.3 370.4L408.6 370.6L413.3 367.4L405 367.5Z" fill="#228c8d"/>
<path d="M500.3 333.1L508.9 329.3L513.4 325.4L504.8 329.5Z" fill="#24aa83"/>
<path d="M271.7 351.4L279.9 356.3L284.9 355L276.7 350.5Z" fill="#1f988b"/>
<path d="M461 352.7L469.5 350.5L474.1 346.8L465.6 349.2Z" fill="#1e9b8a"/>
<path d="M365.7 373.4L374.1 374.9L378.8 372L370.5 370.8Z" fill="#23898e"/>
<path d="M513.4 325.4L522.1 321L526.6 317.1L517.9 321.8Z" fill="#2ab07f"/>
<path d="M301.4 363.4L309.7 367.2L314.6 365.3L306.3 361.8Z" fill="#21908d"/>
<path d="M447.9 358.1L456.4 356.4L461 352.7L452.5 354.6Z" fill="#1f968b"/>
<path d="M526.6 317.1L535.3 312.2L539.7 308.2L531 313.4Z" fill="#35b779"/>
<path d="M241.8 335.8L250.1 341.7L255.2 341.1L246.9 335.5Z" fill="#20a486"/>
<path d="M434.8 362.8L443.3 361.7L447.9 358.1L439.5 359.5Z" fill="#20938c"/>
<path d="M387.2 372.9L395.5 373.7L400.3 370.4L391.9 370Z" fill="#238a8d"/>
<path d="M539.7 308.2L548.5 302.8L552.9 298.7L544.2 304.5Z" fill="#42be71"/>
<path d="M279.9 356.3L288.2 360.8L293.2 359.3L284.9 355Z" fill="#1f958b"/>
<path d="M331.1 371.6L339.4 374.4L344.3 371.9L336 369.4Z" fill="#228b8d"/>
<path d="M203.6 309.3L211.9 316.5L217.1 316.8L208.9 310Z" fill="#37b878"/>
<path d="M421.7 367L430.2 366.4L434.8 362.8L426.4 363.7Z" fill="#21918c"/>
<path d="M352.6 374.2L360.9 376.2L365.7 373.4L357.4 371.6Z" fill="#23898e"/>
<path d="M250.1 341.7L258.4 347.2L263.4 346.4L255.2 341.1Z" fill="#1fa188"/>
<path d="M309.7 367.2L318 370.7L322.9 368.6L314.6 365.3Z" fill="#218e8d"/>
<path d="M374.1 374.9L382.4 376.1L387.2 372.9L378.8 372Z" fill="#238a8d"/>
<path d="M211.9 316.5L220.2 323.3L225.3 323.4L217.1 316.8Z" fill="#2fb47c"/>
<path d="M408.6 370.6L417.1 370.6L421.7 367L413.3 367.4Z" fill="#218e8d"/>
<path d="M288.2 360.8L296.5 365.2L301.4 363.4L293.2 359.3Z" fill="#20938c"/>
<path d="M258.4 347.2L266.6 352.6L271.7 351.4L263.4 346.4Z" fill="#1f9e89"/>
<path d="M220.2 323.3L228.4 329.9L233.6 329.7L225.3 323.4Z" fill="#29af7f"/>
<path d="M482.6 344L491.2 341L495.8 337L487.2 340.2Z" fill="#20a486"/>
<path d="M469.5 350.5L478.1 348L482.6 344L474.1 346.8Z" fill="#1fa088"/>
<path d="M495.8 337L504.4 333.4L508.9 329.3L500.3 333.1Z" fill="#25ab82"/>
<path d="M339.4 374.4L347.8 376.9L352.6 374.2L344.3 371.9Z" fill="#228b8d"/>
<path d="M395.5 373.7L403.9 374.1L408.6 370.6L400.3 370.4Z" fill="#228d8d"/>
<path d="M456.4 356.4L464.9 354.5L469.5 350.5L461 352.7Z" fill="#1e9b8a"/>
<path d="M508.9 329.3L517.6 325.2L522.1 321L513.4 325.4Z" fill="#2ab07f"/>
<path d="M318 370.7L326.3 374L331.1 371.6L322.9 368.6Z" fill="#228d8d"/>
<path d="M360.9 376.2L369.3 378L374.1 374.9L365.7 373.4Z" fill="#238a8d"/>
<path d="M443.3 361.7L451.8 360.3L456.4 356.4L447.9 358.1Z" fill="#1f978b"/>
<path d="M522.1 321L530.8 316.4L535.3 312.2L526.6 317.1Z" fill="#35b779"/>
<path d="M228.4 329.9L236.7 336.3L241.8 335.8L233.6 329.7Z" fill="#25ac82"/>
<path d="M266.6 352.6L274.9 357.7L279.9 356.3L271.7 351.4Z" fill="#1e9b8a"/>
<path d="M296.5 365.2L304.7 369.2L309.7 367.2L301.4 363.4Z" fill="#20928c"/>
<path d="M430.2 366.4L438.6 365.6L443.3 361.7L434.8 362.8Z" fill="#20938c"/>
<path d="M535.3 312.2L544 307L548.5 302.8L539.7 308.2Z" fill="#42be71"/>
<path d="M382.4 376.1L390.8 377.1L395.5 373.7L387.2 372.9Z" fill="#228b8d"/>
<path d="M236.7 336.3L245 342.4L250.1 341.7L241.8 335.8Z" fill="#22a785"/>
<path d="M417.1 370.6L425.5 370.2L430.2 366.4L421.7 367Z" fill="#21918c"/>
<path d="M548.5 302.8L557.3 297L561.7 292.7L552.9 298.7Z" fill="#54c568"/>
<path d="M326.3 374L334.6 377.1L339.4 374.4L331.1 371.6Z" fill="#228d8d"/>
<path d="M274.9 357.7L283.2 362.6L288.2 360.8L279.9 356.3Z" fill="#1f988b"/>
<path d="M347.8 376.9L356.1 379.2L360.9 376.2L352.6 374.2Z" fill="#228b8d"/>
<path d="M304.7 369.2L313 373.1L318 370.7L309.7 367.2Z" fill="#21918c"/>
<path d="M369.3 378L377.6 379.5L382.4 376.1L374.1 374.9Z" fill="#228b8d"/>
<path d="M245 342.4L253.3 348.3L258.4 347.2L250.1 341.7Z" fill="#20a486"/>
<path d="M403.9 374.1L412.3 374.3L417.1 370.6L408.6 370.6Z" fill="#218f8d"/>
<path d="M198.4 308.9L206.7 316.3L211.9 316.5L203.6 309.3Z" fill="#3dbc74"/>
<path d="M478.1 348L486.6 345.3L491.2 341L482.6 344Z" fill="#20a486"/>
<path d="M491.2 341L499.8 337.8L504.4 333.4L495.8 337Z" fill="#25ab82"/>
<path d="M464.9 354.5L473.5 352.3L478.1 348L469.5 350.5Z" fill="#1fa088"/>
<path d="M283.2 362.6L291.5 367.2L296.5 365.2L288.2 360.8Z" fill="#1f968b"/>
<path d="M206.7 316.3L215 323.4L220.2 323.3L211.9 316.5Z" fill="#35b779"/>
<path d="M504.4 333.4L513.1 329.6L517.6 325.2L508.9 329.3Z" fill="#2ab07f"/>
<path d="M451.8 360.3L460.3 358.7L464.9 354.5L456.4 356.4Z" fill="#1e9b8a"/>
<path d="M390.8 377.1L399.2 377.8L403.9 374.1L395.5 373.7Z" fill="#228d8d"/>
<path d="M253.3 348.3L261.6 354L266.6 352.6L258.4 347.2Z" fill="#1fa188"/>
<path d="M334.6 377.1L342.9 379.9L347.8 376.9L339.4 374.4Z" fill="#228c8d"/>
<path d="M517.6 325.2L526.3 320.9L530.8 316.4L522.1 321Z" fill="#35b779"/>
<path d="M438.6 365.6L447.1 364.5L451.8 360.3L443.3 361.7Z" fill="#1f978b"/>
<path d="M313 373.1L321.3 376.7L326.3 374L318 370.7Z" fill="#218f8d"/>
<path d="M356.1 379.2L364.4 381.3L369.3 378L360.9 376.2Z" fill="#228b8d"/>
<path d="M215 323.4L223.3 330.4L228.4 329.9L220.2 323.3Z" fill="#2eb37c"/>
<path d="M530.8 316.4L539.5 311.5L544 307L535.3 312.2Z" fill="#42be71"/>
<path d="M425.5 370.2L433.9 369.7L438.6 365.6L430.2 366.4Z" fill="#20938c"/>
<path d="M291.5 367.2L299.8 371.5L304.7 369.2L296.5 365.2Z" fill="#20938c"/>
<path d="M261.6 354L269.9 359.3L274.9 357.7L266.6 352.6Z" fill="#1f9e89"/>
<path d="M377.6 379.5L386 380.7L390.8 377.1L382.4 376.1Z" fill="#228c8d"/>
<path d="M223.3 330.4L231.6 337L236.7 336.3L228.4 329.9Z" fill="#28ae80"/>
<path d="M544 307L552.8 301.6L557.3 297L548.5 302.8Z" fill="#52c569"/>
<path d="M412.3 374.3L420.8 374.3L425.5 370.2L417.1 370.6Z" fill="#20928c"/>
<path d="M342.9 379.9L351.2 382.5L356.1 379.2L347.8 376.9Z" fill="#228c8d"/>
<path d="M321.3 376.7L329.7 380L334.6 377.1L326.3 374Z" fill="#218e8d"/>
<path d="M231.6 337L239.9 343.4L245 342.4L236.7 336.3Z" fill="#25ab82"/>
<path d="M557.3 297L566.1 291L570.6 286.4L561.7 292.7Z" fill="#67cc5c"/>
<path d="M269.9 359.3L278.2 364.5L283.2 362.6L274.9 357.7Z" fill="#1e9b8a"/>
<path d="M399.2 377.8L407.6 378.3L412.3 374.3L403.9 374.1Z" fill="#218f8d"/>
<path d="M364.4 381.3L372.8 383.1L377.6 379.5L369.3 378Z" fill="#228c8d"/>
<path d="M299.8 371.5L308.1 375.7L313 373.1L304.7 369.2Z" fill="#20928c"/>
<path d="M473.5 352.3L482 349.8L486.6 345.3L478.1 348Z" fill="#20a486"/>
<path d="M486.6 345.3L495.3 342.3L499.8 337.8L491.2 341Z" fill="#24aa83"/>
<path d="M460.3 358.7L468.8 356.8L473.5 352.3L464.9 354.5Z" fill="#1fa088"/>
<path d="M239.9 343.4L248.2 349.6L253.3 348.3L245 342.4Z" fill="#22a785"/>
<path d="M499.8 337.8L508.5 334.2L513.1 329.6L504.4 333.4Z" fill="#2ab07f"/>
<path d="M447.1 364.5L455.6 363.1L460.3 358.7L451.8 360.3Z" fill="#1e9b8a"/>
<path d="M386 380.7L394.4 381.8L399.2 377.8L390.8 377.1Z" fill="#218e8d"/>
<path d="M513.1 329.6L521.8 325.5L526.3 320.9L517.6 325.2Z" fill="#34b679"/>
<path d="M193.1 308.6L201.4 316.3L206.7 316.3L198.4 308.9Z" fill="#46c06f"/>
<path d="M278.2 364.5L286.5 369.4L291.5 367.2L283.2 362.6Z" fill="#1f988b"/>
<path d="M433.9 369.7L442.4 368.8L447.1 364.5L438.6 365.6Z" fill="#1f978b"/>
<path d="M329.7 380L338 383.1L342.9 379.9L334.6 377.1Z" fill="#218e8d"/>
<path d="M351.2 382.5L359.6 384.8L364.4 381.3L356.1 379.2Z" fill="#228c8d"/>
<path d="M526.3 320.9L535 316.2L539.5 311.5L530.8 316.4Z" fill="#40bd72"/>
<path d="M248.2 349.6L256.5 355.5L261.6 354L253.3 348.3Z" fill="#20a386"/>
<path d="M308.1 375.7L316.4 379.5L321.3 376.7L313 373.1Z" fill="#21918c"/>
<path d="M201.4 316.3L209.8 323.8L215 323.4L206.7 316.3Z" fill="#3bbb75"/>
<path d="M420.8 374.3L429.2 374L433.9 369.7L425.5 370.2Z" fill="#1f948c"/>
<path d="M372.8 383.1L381.2 384.6L386 380.7L377.6 379.5Z" fill="#228d8d"/>
<path d="M539.5 311.5L548.3 306.3L552.8 301.6L544 307Z" fill="#52c569"/>
<path d="M209.8 323.8L218.1 331L223.3 330.4L215 323.4Z" fill="#34b679"/>
<path d="M286.5 369.4L294.8 374.1L299.8 371.5L291.5 367.2Z" fill="#1f968b"/>
<path d="M407.6 378.3L416 378.6L420.8 374.3L412.3 374.3Z" fill="#20928c"/>
<path d="M256.5 355.5L264.8 361.2L269.9 359.3L261.6 354Z" fill="#1fa088"/>
<path d="M552.8 301.6L561.7 295.8L566.1 291L557.3 297Z" fill="#65cb5e"/>
<path d="M218.1 331L226.4 338L231.6 337L223.3 330.4Z" fill="#2db27d"/>
<path d="M338 383.1L346.4 386L351.2 382.5L342.9 379.9Z" fill="#228d8d"/>
<path d="M316.4 379.5L324.8 383.2L329.7 380L321.3 376.7Z" fill="#21908d"/>
<path d="M394.4 381.8L402.8 382.5L407.6 378.3L399.2 377.8Z" fill="#21908d"/>
<path d="M359.6 384.8L368 386.9L372.8 383.1L364.4 381.3Z" fill="#228c8d"/>
<path d="M468.8 356.8L477.4 354.6L482 349.8L473.5 352.3Z" fill="#20a486"/>
<path d="M482 349.8L490.7 347.1L495.3 342.3L486.6 345.3Z" fill="#24aa83"/>
<path d="M455.6 363.1L464.2 361.5L468.8 356.8L460.3 358.7Z" fill="#1f9f88"/>
<path d="M264.8 361.2L273.1 366.7L278.2 364.5L269.9 359.3Z" fill="#1e9d89"/>
<path d="M226.4 338L234.7 344.7L239.9 343.4L231.6 337Z" fill="#27ad81"/>
<path d="M495.3 342.3L503.9 339.1L508.5 334.2L499.8 337.8Z" fill="#29af7f"/>
<path d="M294.8 374.1L303.1 378.5L308.1 375.7L299.8 371.5Z" fill="#20938c"/>
<path d="M442.4 368.8L451 367.8L455.6 363.1L447.1 364.5Z" fill="#1e9b8a"/>
<path d="M566.1 291L575 284.7L579.5 279.8L570.6 286.4Z" fill="#7cd250"/>
<path d="M508.5 334.2L517.2 330.4L521.8 325.5L513.1 329.6Z" fill="#34b679"/>
<path d="M381.2 384.6L389.6 385.9L394.4 381.8L386 380.7Z" fill="#218e8d"/>
<path d="M429.2 374L437.7 373.5L442.4 368.8L433.9 369.7Z" fill="#1f978b"/>
<path d="M234.7 344.7L243.1 351.1L248.2 349.6L239.9 343.4Z" fill="#24aa83"/>
<path d="M521.8 325.5L530.5 321.2L535 316.2L526.3 320.9Z" fill="#40bd72"/>
<path d="M324.8 383.2L333.1 386.6L338 383.1L329.7 380Z" fill="#218f8d"/>
<path d="M273.1 366.7L281.5 371.8L286.5 369.4L278.2 364.5Z" fill="#1f9a8a"/>
<path d="M346.4 386L354.8 388.6L359.6 384.8L351.2 382.5Z" fill="#228d8d"/>
<path d="M416 378.6L424.5 378.6L429.2 374L420.8 374.3Z" fill="#20938c"/>
<path d="M303.1 378.5L311.5 382.6L316.4 379.5L308.1 375.7Z" fill="#20928c"/>
<path d="M535 316.2L543.8 311.3L548.3 306.3L539.5 311.5Z" fill="#50c46a"/>
<path d="M187.8 308.6L196.2 316.6L201.4 316.3L193.1 308.6Z" fill="#4ec36b"/>
<path d="M368 386.9L376.4 388.8L381.2 384.6L372.8 383.1Z" fill="#228d8d"/>
<path d="M243.1 351.1L251.4 357.3L256.5 355.5L248.2 349.6Z" fill="#21a685"/>
<path d="M402.8 382.5L411.3 383.1L416 378.6L407.6 378.3Z" fill="#20928c"/>
<path d="M196.2 316.6L204.5 324.3L209.8 323.8L201.4 316.3Z" fill="#42be71"/>
<path d="M548.3 306.3L557.2 300.9L561.7 295.8L552.8 301.6Z" fill="#63cb5f"/>
<path d="M281.5 371.8L289.8 376.8L294.8 374.1L286.5 369.4Z" fill="#1f978b"/>
<path d="M204.5 324.3L212.9 331.8L218.1 331L209.8 323.8Z" fill="#3aba76"/>
<path d="M251.4 357.3L259.7 363.3L264.8 361.2L256.5 355.5Z" fill="#1fa287"/>
<path d="M333.1 386.6L341.5 389.7L346.4 386L338 383.1Z" fill="#218e8d"/>
<path d="M389.6 385.9L398.1 387L402.8 382.5L394.4 381.8Z" fill="#218f8d"/>
<path d="M464.2 361.5L472.8 359.6L477.4 354.6L468.8 356.8Z" fill="#20a386"/>
<path d="M477.4 354.6L486 352.2L490.7 347.1L482 349.8Z" fill="#23a983"/>
<path d="M311.5 382.6L319.8 386.6L324.8 383.2L316.4 379.5Z" fill="#21918c"/>
<path d="M451 367.8L459.5 366.4L464.2 361.5L455.6 363.1Z" fill="#1f9f88"/>
<path d="M354.8 388.6L363.1 391L368 386.9L359.6 384.8Z" fill="#228d8d"/>
<path d="M490.7 347.1L499.3 344.2L503.9 339.1L495.3 342.3Z" fill="#29af7f"/>
<path d="M561.7 295.8L570.6 289.8L575 284.7L566.1 291Z" fill="#7ad151"/>
<path d="M437.7 373.5L446.3 372.7L451 367.8L442.4 368.8Z" fill="#1f9a8a"/>
<path d="M212.9 331.8L221.2 339.1L226.4 338L218.1 331Z" fill="#32b67a"/>
<path d="M503.9 339.1L512.6 335.6L517.2 330.4L508.5 334.2Z" fill="#32b67a"/>
<path d="M289.8 376.8L298.1 381.5L303.1 378.5L294.8 374.1Z" fill="#1f958b"/>
<path d="M259.7 363.3L268.1 369L273.1 366.7L264.8 361.2Z" fill="#1f9f88"/>
<path d="M424.5 378.6L433 378.3L437.7 373.5L429.2 374Z" fill="#1f968b"/>
<path d="M376.4 388.8L384.8 390.3L389.6 385.9L381.2 384.6Z" fill="#218e8d"/>
<path d="M517.2 330.4L525.9 326.4L530.5 321.2L521.8 325.5Z" fill="#3fbc73"/>
<path d="M221.2 339.1L229.6 346.1L234.7 344.7L226.4 338Z" fill="#2cb17e"/>
<path d="M411.3 383.1L419.8 383.3L424.5 378.6L416 378.6Z" fill="#20938c"/>
<path d="M575 284.7L584 278.1L588.4 272.9L579.5 279.8Z" fill="#95d840"/>
<path d="M341.5 389.7L349.9 392.6L354.8 388.6L346.4 386Z" fill="#228d8d"/>
<path d="M319.8 386.6L328.2 390.2L333.1 386.6L324.8 383.2Z" fill="#218f8d"/>
<path d="M530.5 321.2L539.3 316.6L543.8 311.3L535 316.2Z" fill="#4ec36b"/>
<path d="M229.6 346.1L237.9 352.9L243.1 351.1L234.7 344.7Z" fill="#26ad81"/>
<path d="M268.1 369L276.4 374.5L281.5 371.8L273.1 366.7Z" fill="#1e9c89"/>
<path d="M363.1 391L371.6 393.1L376.4 388.8L368 386.9Z" fill="#228d8d"/>
<path d="M298.1 381.5L306.5 385.9L311.5 382.6L303.1 378.5Z" fill="#20938c"/>
<path d="M398.1 387L406.5 387.8L411.3 383.1L402.8 382.5Z" fill="#21918c"/>
<path d="M543.8 311.3L552.7 306.1L557.2 300.9L548.3 306.3Z" fill="#60ca60"/>
<path d="M237.9 352.9L246.3 359.4L251.4 357.3L243.1 351.1Z" fill="#22a884"/>
<path d="M182.5 308.8L190.9 317.1L196.2 316.6L187.8 308.6Z" fill="#56c667"/>
<path d="M459.5 366.4L468.1 364.8L472.8 359.6L464.2 361.5Z" fill="#1fa287"/>
<path d="M472.8 359.6L481.4 357.5L486 352.2L477.4 354.6Z" fill="#22a884"/>
<path d="M384.8 390.3L393.3 391.7L398.1 387L389.6 385.9Z" fill="#218f8d"/>
<path d="M276.4 374.5L284.8 379.8L289.8 376.8L281.5 371.8Z" fill="#1f998a"/>
<path d="M446.3 372.7L454.8 371.6L459.5 366.4L451 367.8Z" fill="#1f9e89"/>
<path d="M486 352.2L494.7 349.5L499.3 344.2L490.7 347.1Z" fill="#27ad81"/>
<path d="M328.2 390.2L336.6 393.7L341.5 389.7L333.1 386.6Z" fill="#218e8d"/>
<path d="M557.2 300.9L566.1 295.1L570.6 289.8L561.7 295.8Z" fill="#77d153"/>
<path d="M190.9 317.1L199.3 325.1L204.5 324.3L196.2 316.6Z" fill="#4ac16d"/>
<path d="M349.9 392.6L358.3 395.3L363.1 391L354.8 388.6Z" fill="#228d8d"/>
<path d="M433 378.3L441.6 377.8L446.3 372.7L437.7 373.5Z" fill="#1f998a"/>
<path d="M499.3 344.2L508 340.9L512.6 335.6L503.9 339.1Z" fill="#31b57b"/>
<path d="M306.5 385.9L314.9 390.2L319.8 386.6L311.5 382.6Z" fill="#20928c"/>
<path d="M246.3 359.4L254.6 365.6L259.7 363.3L251.4 357.3Z" fill="#20a486"/>
<path d="M199.3 325.1L207.6 332.9L212.9 331.8L204.5 324.3Z" fill="#3fbc73"/>
<path d="M419.8 383.3L428.3 383.4L433 378.3L424.5 378.6Z" fill="#1f968b"/>
<path d="M512.6 335.6L521.4 331.8L525.9 326.4L517.2 330.4Z" fill="#3bbb75"/>
<path d="M371.6 393.1L380 395L384.8 390.3L376.4 388.8Z" fill="#218e8d"/>
<path d="M284.8 379.8L293.1 384.7L298.1 381.5L289.8 376.8Z" fill="#1f968b"/>
<path d="M570.6 289.8L579.5 283.5L584 278.1L575 284.7Z" fill="#90d743"/>
<path d="M207.6 332.9L216 340.5L221.2 339.1L212.9 331.8Z" fill="#37b878"/>
<path d="M406.5 387.8L415 388.4L419.8 383.3L411.3 383.1Z" fill="#20928c"/>
<path d="M254.6 365.6L263 371.7L268.1 369L259.7 363.3Z" fill="#1fa188"/>
<path d="M525.9 326.4L534.7 322L539.3 316.6L530.5 321.2Z" fill="#4cc26c"/>
<path d="M336.6 393.7L345 396.8L349.9 392.6L341.5 389.7Z" fill="#228d8d"/>
<path d="M314.9 390.2L323.3 394.1L328.2 390.2L319.8 386.6Z" fill="#21908d"/>
<path d="M216 340.5L224.4 347.8L229.6 346.1L221.2 339.1Z" fill="#2eb37c"/>
<path d="M393.3 391.7L401.7 392.8L406.5 387.8L398.1 387Z" fill="#21918c"/>
<path d="M358.3 395.3L366.7 397.7L371.6 393.1L363.1 391Z" fill="#228d8d"/>
<path d="M539.3 316.6L548.1 311.6L552.7 306.1L543.8 311.3Z" fill="#5ec962"/>
<path d="M263 371.7L271.4 377.4L276.4 374.5L268.1 369Z" fill="#1f9e89"/>
<path d="M293.1 384.7L301.5 389.5L306.5 385.9L298.1 381.5Z" fill="#1f948c"/>
<path d="M584 278.1L593 271.2L597.4 265.8L588.4 272.9Z" fill="#addc30"/>
<path d="M224.4 347.8L232.8 354.8L237.9 352.9L229.6 346.1Z" fill="#28ae80"/>
<path d="M468.1 364.8L476.7 363L481.4 357.5L472.8 359.6Z" fill="#22a785"/>
<path d="M454.8 371.6L463.4 370.3L468.1 364.8L459.5 366.4Z" fill="#1fa187"/>
<path d="M481.4 357.5L490.1 355.1L494.7 349.5L486 352.2Z" fill="#26ad81"/>
<path d="M441.6 377.8L450.1 377L454.8 371.6L446.3 372.7Z" fill="#1e9d89"/>
<path d="M380 395L388.5 396.6L393.3 391.7L384.8 390.3Z" fill="#218f8d"/>
<path d="M552.7 306.1L561.5 300.7L566.1 295.1L557.2 300.9Z" fill="#75d054"/>
<path d="M494.7 349.5L503.4 346.5L508 340.9L499.3 344.2Z" fill="#2eb37c"/>
<path d="M428.3 383.4L436.8 383.1L441.6 377.8L433 378.3Z" fill="#1f988b"/>
<path d="M232.8 354.8L241.1 361.6L246.3 359.4L237.9 352.9Z" fill="#25ab82"/>
<path d="M323.3 394.1L331.7 397.8L336.6 393.7L328.2 390.2Z" fill="#218f8d"/>
<path d="M271.4 377.4L279.7 383L284.8 379.8L276.4 374.5Z" fill="#1f9a8a"/>
<path d="M345 396.8L353.4 399.8L358.3 395.3L349.9 392.6Z" fill="#228d8d"/>
<path d="M508 340.9L516.8 337.4L521.4 331.8L512.6 335.6Z" fill="#3aba76"/>
<path d="M301.5 389.5L309.9 394L314.9 390.2L306.5 385.9Z" fill="#20928c"/>
<path d="M415 388.4L423.5 388.7L428.3 383.4L419.8 383.3Z" fill="#1f958b"/>
<path d="M177.2 309.2L185.6 317.8L190.9 317.1L182.5 308.8Z" fill="#5ec962"/>
<path d="M366.7 397.7L375.2 399.8L380 395L371.6 393.1Z" fill="#228d8d"/>
<path d="M566.1 295.1L575 289.1L579.5 283.5L570.6 289.8Z" fill="#8ed645"/>
<path d="M241.1 361.6L249.5 368.2L254.6 365.6L246.3 359.4Z" fill="#21a685"/>
<path d="M521.4 331.8L530.1 327.7L534.7 322L525.9 326.4Z" fill="#48c16e"/>
<path d="M185.6 317.8L194 326.1L199.3 325.1L190.9 317.1Z" fill="#52c569"/>
<path d="M401.7 392.8L410.2 393.6L415 388.4L406.5 387.8Z" fill="#20928c"/>
<path d="M279.7 383L288.1 388.2L293.1 384.7L284.8 379.8Z" fill="#1f978b"/>
<path d="M194 326.1L202.4 334.2L207.6 332.9L199.3 325.1Z" fill="#46c06f"/>
<path d="M331.7 397.8L340.1 401.3L345 396.8L336.6 393.7Z" fill="#228d8d"/>
<path d="M249.5 368.2L257.9 374.5L263 371.7L254.6 365.6Z" fill="#1fa287"/>
<path d="M534.7 322L543.6 317.4L548.1 311.6L539.3 316.6Z" fill="#5ac864"/>
<path d="M309.9 394L318.3 398.2L323.3 394.1L314.9 390.2Z" fill="#21908d"/>
<path d="M388.5 396.6L396.9 398L401.7 392.8L393.3 391.7Z" fill="#21908d"/>
<path d="M202.4 334.2L210.8 342.1L216 340.5L207.6 332.9Z" fill="#3bbb75"/>
<path d="M353.4 399.8L361.8 402.5L366.7 397.7L358.3 395.3Z" fill="#228d8d"/>
<path d="M579.5 283.5L588.5 276.9L593 271.2L584 278.1Z" fill="#aadc32"/>
<path d="M463.4 370.3L472.1 368.7L476.7 363L468.1 364.8Z" fill="#21a585"/>
<path d="M450.1 377L458.7 376L463.4 370.3L454.8 371.6Z" fill="#1fa188"/>
<path d="M210.8 342.1L219.2 349.7L224.4 347.8L216 340.5Z" fill="#32b67a"/>
<path d="M288.1 388.2L296.5 393.3L301.5 389.5L293.1 384.7Z" fill="#1f948c"/>
<path d="M476.7 363L485.4 360.8L490.1 355.1L481.4 357.5Z" fill="#25ac82"/>
<path d="M548.1 311.6L557 306.5L561.5 300.7L552.7 306.1Z" fill="#70cf57"/>
<path d="M436.8 383.1L445.4 382.6L450.1 377L441.6 377.8Z" fill="#1e9c89"/>
<path d="M257.9 374.5L266.3 380.6L271.4 377.4L263 371.7Z" fill="#1f9f88"/>
<path d="M375.2 399.8L383.6 401.7L388.5 396.6L380 395Z" fill="#218e8d"/>
<path d="M490.1 355.1L498.8 352.4L503.4 346.5L494.7 349.5Z" fill="#2db27d"/>
<path d="M423.5 388.7L432.1 388.7L436.8 383.1L428.3 383.4Z" fill="#1f978b"/>
<path d="M219.2 349.7L227.6 357L232.8 354.8L224.4 347.8Z" fill="#2cb17e"/>
<path d="M503.4 346.5L512.1 343.3L516.8 337.4L508 340.9Z" fill="#37b878"/>
<path d="M318.3 398.2L326.7 402.2L331.7 397.8L323.3 394.1Z" fill="#218f8d"/>
<path d="M340.1 401.3L348.5 404.5L353.4 399.8L345 396.8Z" fill="#228d8d"/>
<path d="M593 271.2L602 264L606.5 258.3L597.4 265.8Z" fill="#c8e020"/>
<path d="M410.2 393.6L418.8 394.2L423.5 388.7L415 388.4Z" fill="#20938c"/>
<path d="M266.3 380.6L274.7 386.4L279.7 383L271.4 377.4Z" fill="#1e9b8a"/>
<path d="M561.5 300.7L570.5 294.9L575 289.1L566.1 295.1Z" fill="#89d548"/>
<path d="M227.6 357L236 364.1L241.1 361.6L232.8 354.8Z" fill="#26ad81"/>
<path d="M296.5 393.3L304.9 398.1L309.9 394L301.5 389.5Z" fill="#20928c"/>
<path d="M516.8 337.4L525.5 333.7L530.1 327.7L521.4 331.8Z" fill="#46c06f"/>
<path d="M361.8 402.5L370.3 404.9L375.2 399.8L366.7 397.7Z" fill="#228d8d"/>
<path d="M396.9 398L405.4 399.1L410.2 393.6L401.7 392.8Z" fill="#21918c"/>
<path d="M236 364.1L244.4 371L249.5 368.2L241.1 361.6Z" fill="#22a884"/>
<path d="M530.1 327.7L539 323.4L543.6 317.4L534.7 322Z" fill="#56c667"/>
<path d="M274.7 386.4L283.1 391.9L288.1 388.2L279.7 383Z" fill="#1f988b"/>
<path d="M171.8 309.8L180.3 318.7L185.6 317.8L177.2 309.2Z" fill="#67cc5c"/>
<path d="M326.7 402.2L335.1 406L340.1 401.3L331.7 397.8Z" fill="#228d8d"/>
<path d="M383.6 401.7L392.1 403.4L396.9 398L388.5 396.6Z" fill="#218f8d"/>
<path d="M575 289.1L584 282.7L588.5 276.9L579.5 283.5Z" fill="#a5db36"/>
<path d="M180.3 318.7L188.7 327.3L194 326.1L185.6 317.8Z" fill="#58c765"/>
<path d="M348.5 404.5L356.9 407.5L361.8 402.5L353.4 399.8Z" fill="#228c8d"/>
<path d="M304.9 398.1L313.3 402.6L318.3 398.2L309.9 394Z" fill="#21908d"/>
<path d="M458.7 376L467.4 374.7L472.1 368.7L463.4 370.3Z" fill="#20a486"/>
<path d="M244.4 371L252.8 377.6L257.9 374.5L249.5 368.2Z" fill="#20a386"/>
<path d="M445.4 382.6L454 381.9L458.7 376L450.1 377Z" fill="#1f9f88"/>
<path d="M472.1 368.7L480.7 366.9L485.4 360.8L476.7 363Z" fill="#24aa83"/>
<path d="M188.7 327.3L197.1 335.7L202.4 334.2L194 326.1Z" fill="#4cc26c"/>
<path d="M543.6 317.4L552.4 312.5L557 306.5L548.1 311.6Z" fill="#6ccd5a"/>
<path d="M432.1 388.7L440.7 388.5L445.4 382.6L436.8 383.1Z" fill="#1f9a8a"/>
<path d="M485.4 360.8L494.1 358.5L498.8 352.4L490.1 355.1Z" fill="#2ab07f"/>
<path d="M197.1 335.7L205.5 343.9L210.8 342.1L202.4 334.2Z" fill="#3fbc73"/>
<path d="M370.3 404.9L378.8 407.1L383.6 401.7L375.2 399.8Z" fill="#228d8d"/>
<path d="M418.8 394.2L427.3 394.5L432.1 388.7L423.5 388.7Z" fill="#1f968b"/>
<path d="M283.1 391.9L291.5 397.3L296.5 393.3L288.1 388.2Z" fill="#1f958b"/>
<path d="M498.8 352.4L507.5 349.5L512.1 343.3L503.4 346.5Z" fill="#34b679"/>
<path d="M252.8 377.6L261.2 383.9L266.3 380.6L257.9 374.5Z" fill="#1fa088"/>
<path d="M588.5 276.9L597.6 270L602 264L593 271.2Z" fill="#c5e021"/>
<path d="M205.5 343.9L214 351.8L219.2 349.7L210.8 342.1Z" fill="#37b878"/>
<path d="M405.4 399.1L414 400L418.8 394.2L410.2 393.6Z" fill="#20928c"/>
<path d="M557 306.5L565.9 301L570.5 294.9L561.5 300.7Z" fill="#84d44b"/>
<path d="M335.1 406L343.6 409.5L348.5 404.5L340.1 401.3Z" fill="#228c8d"/>
<path d="M313.3 402.6L321.8 406.9L326.7 402.2L318.3 398.2Z" fill="#218e8d"/>
<path d="M512.1 343.3L520.9 339.8L525.5 333.7L516.8 337.4Z" fill="#42be71"/>
<path d="M214 351.8L222.4 359.4L227.6 357L219.2 349.7Z" fill="#2eb37c"/>
<path d="M356.9 407.5L365.4 410.3L370.3 404.9L361.8 402.5Z" fill="#228c8d"/>
<path d="M392.1 403.4L400.6 404.8L405.4 399.1L396.9 398Z" fill="#21908d"/>
<path d="M291.5 397.3L299.9 402.3L304.9 398.1L296.5 393.3Z" fill="#20928c"/>
<path d="M261.2 383.9L269.6 390L274.7 386.4L266.3 380.6Z" fill="#1e9c89"/>
<path d="M525.5 333.7L534.4 329.6L539 323.4L530.1 327.7Z" fill="#52c569"/>
<path d="M222.4 359.4L230.8 366.8L236 364.1L227.6 357Z" fill="#28ae80"/>
<path d="M570.5 294.9L579.5 288.9L584 282.7L575 289.1Z" fill="#a0da39"/>
<path d="M602 264L611.2 256.5L615.6 250.5L606.5 258.3Z" fill="#e5e419"/>
<path d="M378.8 407.1L387.3 409.1L392.1 403.4L383.6 401.7Z" fill="#218e8d"/>
<path d="M321.8 406.9L330.2 410.9L335.1 406L326.7 402.2Z" fill="#228d8d"/>
<path d="M454 381.9L462.6 380.9L467.4 374.7L458.7 376Z" fill="#1fa287"/>
<path d="M230.8 366.8L239.2 374L244.4 371L236 364.1Z" fill="#23a983"/>
<path d="M269.6 390L278 395.9L283.1 391.9L274.7 386.4Z" fill="#1f988b"/>
<path d="M440.7 388.5L449.3 388.1L454 381.9L445.4 382.6Z" fill="#1e9d89"/>
<path d="M343.6 409.5L352 412.8L356.9 407.5L348.5 404.5Z" fill="#228b8d"/>
<path d="M467.4 374.7L476 373.1L480.7 366.9L472.1 368.7Z" fill="#22a884"/>
<path d="M539 323.4L547.9 318.8L552.4 312.5L543.6 317.4Z" fill="#67cc5c"/>
<path d="M427.3 394.5L435.9 394.6L440.7 388.5L432.1 388.7Z" fill="#1f988b"/>
<path d="M299.9 402.3L308.3 407.2L313.3 402.6L304.9 398.1Z" fill="#21908d"/>
<path d="M480.7 366.9L489.4 364.8L494.1 358.5L485.4 360.8Z" fill="#28ae80"/>
<path d="M414 400L422.5 400.6L427.3 394.5L418.8 394.2Z" fill="#1f948c"/>
<path d="M365.4 410.3L373.9 412.7L378.8 407.1L370.3 404.9Z" fill="#228c8d"/>
<path d="M494.1 358.5L502.8 355.8L507.5 349.5L498.8 352.4Z" fill="#31b57b"/>
<path d="M166.4 310.6L174.9 319.8L180.3 318.7L171.8 309.8Z" fill="#6ece58"/>
<path d="M239.2 374L247.6 380.9L252.8 377.6L244.4 371Z" fill="#21a585"/>
<path d="M584 282.7L593 276.1L597.6 270L588.5 276.9Z" fill="#c0df25"/>
<path d="M174.9 319.8L183.4 328.8L188.7 327.3L180.3 318.7Z" fill="#5ec962"/>
<path d="M278 395.9L286.4 401.5L291.5 397.3L283.1 391.9Z" fill="#1f958b"/>
<path d="M552.4 312.5L561.4 307.3L565.9 301L557 306.5Z" fill="#7fd34e"/>
<path d="M400.6 404.8L409.2 406L414 400L405.4 399.1Z" fill="#21918c"/>
<path d="M183.4 328.8L191.8 337.5L197.1 335.7L188.7 327.3Z" fill="#50c46a"/>
<path d="M507.5 349.5L516.3 346.3L520.9 339.8L512.1 343.3Z" fill="#3dbc74"/>
<path d="M330.2 410.9L338.6 414.7L343.6 409.5L335.1 406Z" fill="#228b8d"/>
<path d="M191.8 337.5L200.3 345.9L205.5 343.9L197.1 335.7Z" fill="#44bf70"/>
<path d="M247.6 380.9L256.1 387.5L261.2 383.9L252.8 377.6Z" fill="#1fa188"/>
<path d="M308.3 407.2L316.8 411.8L321.8 406.9L313.3 402.6Z" fill="#218e8d"/>
<path d="M352 412.8L360.5 415.8L365.4 410.3L356.9 407.5Z" fill="#228b8d"/>
<path d="M387.3 409.1L395.8 410.8L400.6 404.8L392.1 403.4Z" fill="#218e8d"/>
<path d="M520.9 339.8L529.8 336.1L534.4 329.6L525.5 333.7Z" fill="#4ec36b"/>
<path d="M200.3 345.9L208.7 354.1L214 351.8L205.5 343.9Z" fill="#3aba76"/>
<path d="M286.4 401.5L294.9 406.9L299.9 402.3L291.5 397.3Z" fill="#20928c"/>
<path d="M565.9 301L574.9 295.3L579.5 288.9L570.5 294.9Z" fill="#9bd93c"/>
<path d="M597.6 270L606.7 262.8L611.2 256.5L602 264Z" fill="#dfe318"/>
<path d="M256.1 387.5L264.5 393.9L269.6 390L261.2 383.9Z" fill="#1e9d89"/>
<path d="M208.7 354.1L217.2 362.1L222.4 359.4L214 351.8Z" fill="#31b57b"/>
<path d="M373.9 412.7L382.4 415L387.3 409.1L378.8 407.1Z" fill="#228c8d"/>
<path d="M449.3 388.1L457.9 387.4L462.6 380.9L454 381.9Z" fill="#1fa188"/>
<path d="M462.6 380.9L471.3 379.6L476 373.1L467.4 374.7Z" fill="#21a685"/>
<path d="M435.9 394.6L444.5 394.5L449.3 388.1L440.7 388.5Z" fill="#1e9b8a"/>
<path d="M534.4 329.6L543.2 325.3L547.9 318.8L539 323.4Z" fill="#63cb5f"/>
<path d="M217.2 362.1L225.6 369.7L230.8 366.8L222.4 359.4Z" fill="#29af7f"/>
<path d="M316.8 411.8L325.2 416.1L330.2 410.9L321.8 406.9Z" fill="#228c8d"/>
<path d="M476 373.1L484.7 371.3L489.4 364.8L480.7 366.9Z" fill="#26ad81"/>
<path d="M422.5 400.6L431.1 401L435.9 394.6L427.3 394.5Z" fill="#1f968b"/>
<path d="M338.6 414.7L347.1 418.3L352 412.8L343.6 409.5Z" fill="#238a8d"/>
<path d="M264.5 393.9L272.9 400.1L278 395.9L269.6 390Z" fill="#1f998a"/>
<path d="M489.4 364.8L498.2 362.4L502.8 355.8L494.1 358.5Z" fill="#2eb37c"/>
<path d="M409.2 406L417.7 406.9L422.5 400.6L414 400Z" fill="#20928c"/>
<path d="M294.9 406.9L303.3 412L308.3 407.2L299.9 402.3Z" fill="#21908d"/>
<path d="M225.6 369.7L234 377.2L239.2 374L230.8 366.8Z" fill="#25ab82"/>
<path d="M360.5 415.8L369 418.6L373.9 412.7L365.4 410.3Z" fill="#238a8d"/>
<path d="M579.5 288.9L588.5 282.6L593 276.1L584 282.7Z" fill="#b8de29"/>
<path d="M547.9 318.8L556.8 313.9L561.4 307.3L552.4 312.5Z" fill="#7ad151"/>
<path d="M502.8 355.8L511.6 352.9L516.3 346.3L507.5 349.5Z" fill="#3aba76"/>
<path d="M395.8 410.8L404.3 412.2L409.2 406L400.6 404.8Z" fill="#218f8d"/>
<path d="M611.2 256.5L620.3 248.7L624.8 242.5L615.6 250.5Z" fill="#fde725"/>
<path d="M234 377.2L242.5 384.4L247.6 380.9L239.2 374Z" fill="#21a685"/>
<path d="M272.9 400.1L281.4 406L286.4 401.5L278 395.9Z" fill="#1f958b"/>
<path d="M325.2 416.1L333.7 420.2L338.6 414.7L330.2 410.9Z" fill="#238a8d"/>
<path d="M516.3 346.3L525.1 342.8L529.8 336.1L520.9 339.8Z" fill="#4ac16d"/>
<path d="M382.4 415L390.9 417L395.8 410.8L387.3 409.1Z" fill="#228d8d"/>
<path d="M303.3 412L311.8 416.9L316.8 411.8L308.3 407.2Z" fill="#228d8d"/>
<path d="M161 311.7L169.5 321.2L174.9 319.8L166.4 310.6Z" fill="#75d054"/>
<path d="M347.1 418.3L355.6 421.6L360.5 415.8L352 412.8Z" fill="#23898e"/>
<path d="M169.5 321.2L178 330.4L183.4 328.8L174.9 319.8Z" fill="#65cb5e"/>
<path d="M561.4 307.3L570.3 301.9L574.9 295.3L565.9 301Z" fill="#93d741"/>
<path d="M242.5 384.4L250.9 391.3L256.1 387.5L247.6 380.9Z" fill="#1fa187"/>
<path d="M178 330.4L186.5 339.4L191.8 337.5L183.4 328.8Z" fill="#56c667"/>
<path d="M593 276.1L602.1 269.2L606.7 262.8L597.6 270Z" fill="#d8e219"/>
<path d="M186.5 339.4L195 348.2L200.3 345.9L191.8 337.5Z" fill="#48c16e"/>
<path d="M444.5 394.5L453.1 394L457.9 387.4L449.3 388.1Z" fill="#1f9e89"/>
<path d="M281.4 406L289.8 411.6L294.9 406.9L286.4 401.5Z" fill="#20928c"/>
<path d="M529.8 336.1L538.6 332.1L543.2 325.3L534.4 329.6Z" fill="#5cc863"/>
<path d="M369 418.6L377.5 421.1L382.4 415L373.9 412.7Z" fill="#238a8d"/>
<path d="M457.9 387.4L466.6 386.4L471.3 379.6L462.6 380.9Z" fill="#20a386"/>
<path d="M431.1 401L439.7 401.1L444.5 394.5L435.9 394.6Z" fill="#1f998a"/>
<path d="M195 348.2L203.4 356.7L208.7 354.1L200.3 345.9Z" fill="#3dbc74"/>
<path d="M471.3 379.6L480 378.1L484.7 371.3L476 373.1Z" fill="#24aa83"/>
<path d="M417.7 406.9L426.3 407.6L431.1 401L422.5 400.6Z" fill="#1f948c"/>
<path d="M250.9 391.3L259.4 398L264.5 393.9L256.1 387.5Z" fill="#1e9d89"/>
<path d="M333.7 420.2L342.2 424L347.1 418.3L338.6 414.7Z" fill="#23898e"/>
<path d="M311.8 416.9L320.2 421.5L325.2 416.1L316.8 411.8Z" fill="#228b8d"/>
<path d="M484.7 371.3L493.5 369.3L498.2 362.4L489.4 364.8Z" fill="#2ab07f"/>
<path d="M203.4 356.7L211.9 364.9L217.2 362.1L208.7 354.1Z" fill="#32b67a"/>
<path d="M404.3 412.2L412.9 413.4L417.7 406.9L409.2 406Z" fill="#21918c"/>
<path d="M574.9 295.3L584 289.2L588.5 282.6L579.5 288.9Z" fill="#b2dd2d"/>
<path d="M543.2 325.3L552.2 320.7L556.8 313.9L547.9 318.8Z" fill="#73d056"/>
<path d="M355.6 421.6L364.1 424.7L369 418.6L360.5 415.8Z" fill="#23898e"/>
<path d="M211.9 364.9L220.4 372.9L225.6 369.7L217.2 362.1Z" fill="#2ab07f"/>
<path d="M498.2 362.4L506.9 359.8L511.6 352.9L502.8 355.8Z" fill="#35b779"/>
<path d="M289.8 411.6L298.3 417L303.3 412L294.9 406.9Z" fill="#218f8d"/>
<path d="M259.4 398L267.8 404.5L272.9 400.1L264.5 393.9Z" fill="#1f998a"/>
<path d="M390.9 417L399.5 418.7L404.3 412.2L395.8 410.8Z" fill="#228d8d"/>
<path d="M606.7 262.8L615.8 255.3L620.3 248.7L611.2 256.5Z" fill="#f8e621"/>
<path d="M220.4 372.9L228.9 380.6L234 377.2L225.6 369.7Z" fill="#25ac82"/>
<path d="M511.6 352.9L520.4 349.7L525.1 342.8L516.3 346.3Z" fill="#44bf70"/>
<path d="M377.5 421.1L386.1 423.4L390.9 417L382.4 415Z" fill="#228b8d"/>
<path d="M320.2 421.5L328.7 425.9L333.7 420.2L325.2 416.1Z" fill="#23898e"/>
<path d="M267.8 404.5L276.3 410.7L281.4 406L272.9 400.1Z" fill="#1f958b"/>
<path d="M556.8 313.9L565.8 308.7L570.3 301.9L561.4 307.3Z" fill="#8ed645"/>
<path d="M342.2 424L350.7 427.6L355.6 421.6L347.1 418.3Z" fill="#23888e"/>
<path d="M228.9 380.6L237.3 388.1L242.5 384.4L234 377.2Z" fill="#21a685"/>
<path d="M588.5 282.6L597.6 275.9L602.1 269.2L593 276.1Z" fill="#d2e21b"/>
<path d="M298.3 417L306.8 422.2L311.8 416.9L303.3 412Z" fill="#228d8d"/>
<path d="M525.1 342.8L534 339L538.6 332.1L529.8 336.1Z" fill="#56c667"/>
<path d="M439.7 401.1L448.4 401L453.1 394L444.5 394.5Z" fill="#1e9c89"/>
<path d="M453.1 394L461.8 393.4L466.6 386.4L457.9 387.4Z" fill="#1fa187"/>
<path d="M426.3 407.6L434.9 408L439.7 401.1L431.1 401Z" fill="#1f968b"/>
<path d="M364.1 424.7L372.6 427.5L377.5 421.1L369 418.6Z" fill="#23888e"/>
<path d="M466.6 386.4L475.3 385.2L480 378.1L471.3 379.6Z" fill="#22a785"/>
<path d="M237.3 388.1L245.8 395.4L250.9 391.3L242.5 384.4Z" fill="#1fa187"/>
<path d="M412.9 413.4L421.5 414.4L426.3 407.6L417.7 406.9Z" fill="#20928c"/>
<path d="M276.3 410.7L284.8 416.6L289.8 411.6L281.4 406Z" fill="#20928c"/>
<path d="M480 378.1L488.7 376.3L493.5 369.3L484.7 371.3Z" fill="#28ae80"/>
<path d="M155.6 312.9L164.2 322.8L169.5 321.2L161 311.7Z" fill="#7cd250"/>
<path d="M164.2 322.8L172.7 332.3L178 330.4L169.5 321.2Z" fill="#6ccd5a"/>
<path d="M399.5 418.7L408.1 420.2L412.9 413.4L404.3 412.2Z" fill="#218e8d"/>
<path d="M570.3 301.9L579.4 296.1L584 289.2L574.9 295.3Z" fill="#aadc32"/>
<path d="M172.7 332.3L181.2 341.6L186.5 339.4L178 330.4Z" fill="#5ac864"/>
<path d="M328.7 425.9L337.2 430L342.2 424L333.7 420.2Z" fill="#24878e"/>
<path d="M306.8 422.2L315.2 427.1L320.2 421.5L311.8 416.9Z" fill="#238a8d"/>
<path d="M538.6 332.1L547.5 327.7L552.2 320.7L543.2 325.3Z" fill="#6ccd5a"/>
<path d="M245.8 395.4L254.3 402.4L259.4 398L250.9 391.3Z" fill="#1e9d89"/>
<path d="M181.2 341.6L189.7 350.7L195 348.2L186.5 339.4Z" fill="#4cc26c"/>
<path d="M493.5 369.3L502.2 366.9L506.9 359.8L498.2 362.4Z" fill="#31b57b"/>
<path d="M350.7 427.6L359.2 431L364.1 424.7L355.6 421.6Z" fill="#24878e"/>
<path d="M602.1 269.2L611.3 262L615.8 255.3L606.7 262.8Z" fill="#f1e51d"/>
<path d="M189.7 350.7L198.2 359.5L203.4 356.7L195 348.2Z" fill="#3fbc73"/>
<path d="M386.1 423.4L394.6 425.4L399.5 418.7L390.9 417Z" fill="#228b8d"/>
<path d="M284.8 416.6L293.3 422.3L298.3 417L289.8 411.6Z" fill="#218f8d"/>
<path d="M198.2 359.5L206.7 368L211.9 364.9L203.4 356.7Z" fill="#35b779"/>
<path d="M506.9 359.8L515.8 356.9L520.4 349.7L511.6 352.9Z" fill="#3fbc73"/>
<path d="M254.3 402.4L262.7 409.1L267.8 404.5L259.4 398Z" fill="#1f998a"/>
<path d="M206.7 368L215.2 376.3L220.4 372.9L211.9 364.9Z" fill="#2db27d"/>
<path d="M372.6 427.5L381.2 430.1L386.1 423.4L377.5 421.1Z" fill="#23888e"/>
<path d="M552.2 320.7L561.1 315.8L565.8 308.7L556.8 313.9Z" fill="#86d549"/>
<path d="M584 289.2L593 282.9L597.6 275.9L588.5 282.6Z" fill="#cae11f"/>
<path d="M315.2 427.1L323.7 431.8L328.7 425.9L320.2 421.5Z" fill="#23888e"/>
<path d="M337.2 430L345.7 433.9L350.7 427.6L342.2 424Z" fill="#24868e"/>
<path d="M215.2 376.3L223.6 384.3L228.9 380.6L220.4 372.9Z" fill="#26ad81"/>
<path d="M520.4 349.7L529.3 346.3L534 339L525.1 342.8Z" fill="#50c46a"/>
<path d="M434.9 408L443.6 408.1L448.4 401L439.7 401.1Z" fill="#1f998a"/>
<path d="M448.4 401L457 400.6L461.8 393.4L453.1 394Z" fill="#1f9f88"/>
<path d="M262.7 409.1L271.2 415.6L276.3 410.7L267.8 404.5Z" fill="#1f948c"/>
<path d="M293.3 422.3L301.7 427.8L306.8 422.2L298.3 417Z" fill="#228b8d"/>
<path d="M421.5 414.4L430.1 415.1L434.9 408L426.3 407.6Z" fill="#20938c"/>
<path d="M461.8 393.4L470.5 392.4L475.3 385.2L466.6 386.4Z" fill="#20a486"/>
<path d="M359.2 431L367.7 434.1L372.6 427.5L364.1 424.7Z" fill="#24868e"/>
<path d="M408.1 420.2L416.6 421.4L421.5 414.4L412.9 413.4Z" fill="#21908d"/>
<path d="M223.6 384.3L232.1 392.1L237.3 388.1L228.9 380.6Z" fill="#22a785"/>
<path d="M475.3 385.2L484 383.7L488.7 376.3L480 378.1Z" fill="#25ab82"/>
<path d="M565.8 308.7L574.8 303.3L579.4 296.1L570.3 301.9Z" fill="#a2da37"/>
<path d="M394.6 425.4L403.2 427.2L408.1 420.2L399.5 418.7Z" fill="#228c8d"/>
<path d="M534 339L542.9 335L547.5 327.7L538.6 332.1Z" fill="#65cb5e"/>
<path d="M271.2 415.6L279.7 421.8L284.8 416.6L276.3 410.7Z" fill="#21918c"/>
<path d="M488.7 376.3L497.5 374.3L502.2 366.9L493.5 369.3Z" fill="#2db27d"/>
<path d="M232.1 392.1L240.6 399.7L245.8 395.4L237.3 388.1Z" fill="#1fa187"/>
<path d="M323.7 431.8L332.2 436.2L337.2 430L328.7 425.9Z" fill="#24868e"/>
<path d="M597.6 275.9L606.8 269L611.3 262L602.1 269.2Z" fill="#eae51a"/>
<path d="M301.7 427.8L310.2 433L315.2 427.1L306.8 422.2Z" fill="#23898e"/>
<path d="M345.7 433.9L354.2 437.6L359.2 431L350.7 427.6Z" fill="#25858e"/>
<path d="M381.2 430.1L389.7 432.4L394.6 425.4L386.1 423.4Z" fill="#23888e"/>
<path d="M502.2 366.9L511.1 364.3L515.8 356.9L506.9 359.8Z" fill="#3aba76"/>
<path d="M240.6 399.7L249.1 406.9L254.3 402.4L245.8 395.4Z" fill="#1e9d89"/>
<path d="M150.2 314.4L158.7 324.6L164.2 322.8L155.6 312.9Z" fill="#84d44b"/>
<path d="M158.7 324.6L167.3 334.4L172.7 332.3L164.2 322.8Z" fill="#70cf57"/>
<path d="M167.3 334.4L175.8 344L181.2 341.6L172.7 332.3Z" fill="#5ec962"/>
<path d="M279.7 421.8L288.2 427.8L293.3 422.3L284.8 416.6Z" fill="#218e8d"/>
<path d="M547.5 327.7L556.5 323.2L561.1 315.8L552.2 320.7Z" fill="#7fd34e"/>
<path d="M175.8 344L184.4 353.4L189.7 350.7L181.2 341.6Z" fill="#50c46a"/>
<path d="M367.7 434.1L376.3 437L381.2 430.1L372.6 427.5Z" fill="#24868e"/>
<path d="M579.4 296.1L588.5 290.1L593 282.9L584 289.2Z" fill="#c2df23"/>
<path d="M184.4 353.4L192.9 362.5L198.2 359.5L189.7 350.7Z" fill="#42be71"/>
<path d="M249.1 406.9L257.6 414L262.7 409.1L254.3 402.4Z" fill="#1f988b"/>
<path d="M515.8 356.9L524.6 353.7L529.3 346.3L520.4 349.7Z" fill="#4ac16d"/>
<path d="M430.1 415.1L438.8 415.5L443.6 408.1L434.9 408Z" fill="#1f968b"/>
<path d="M443.6 408.1L452.2 408L457 400.6L448.4 401Z" fill="#1e9c89"/>
<path d="M332.2 436.2L340.8 440.4L345.7 433.9L337.2 430Z" fill="#25848e"/>
<path d="M310.2 433L318.7 438L323.7 431.8L315.2 427.1Z" fill="#24868e"/>
<path d="M192.9 362.5L201.4 371.3L206.7 368L198.2 359.5Z" fill="#37b878"/>
<path d="M416.6 421.4L425.3 422.4L430.1 415.1L421.5 414.4Z" fill="#21918c"/>
<path d="M457 400.6L465.7 399.9L470.5 392.4L461.8 393.4Z" fill="#1fa187"/>
<path d="M201.4 371.3L209.9 379.9L215.2 376.3L206.7 368Z" fill="#2eb37c"/>
<path d="M403.2 427.2L411.8 428.7L416.6 421.4L408.1 420.2Z" fill="#228d8d"/>
<path d="M470.5 392.4L479.2 391.2L484 383.7L475.3 385.2Z" fill="#22a884"/>
<path d="M354.2 437.6L362.8 441L367.7 434.1L359.2 431Z" fill="#25848e"/>
<path d="M288.2 427.8L296.7 433.6L301.7 427.8L293.3 422.3Z" fill="#238a8d"/>
<path d="M257.6 414L266.1 420.8L271.2 415.6L262.7 409.1Z" fill="#1f948c"/>
<path d="M561.1 315.8L570.2 310.7L574.8 303.3L565.8 308.7Z" fill="#9bd93c"/>
<path d="M209.9 379.9L218.4 388.3L223.6 384.3L215.2 376.3Z" fill="#26ad81"/>
<path d="M529.3 346.3L538.2 342.6L542.9 335L534 339Z" fill="#5ec962"/>
<path d="M389.7 432.4L398.3 434.5L403.2 427.2L394.6 425.4Z" fill="#23898e"/>
<path d="M484 383.7L492.8 381.9L497.5 374.3L488.7 376.3Z" fill="#29af7f"/>
<path d="M218.4 388.3L226.9 396.3L232.1 392.1L223.6 384.3Z" fill="#22a785"/>
<path d="M593 282.9L602.2 276.3L606.8 269L597.6 275.9Z" fill="#e2e418"/>
<path d="M318.7 438L327.2 442.7L332.2 436.2L323.7 431.8Z" fill="#25848e"/>
<path d="M376.3 437L384.8 439.6L389.7 432.4L381.2 430.1Z" fill="#24868e"/>
<path d="M266.1 420.8L274.6 427.3L279.7 421.8L271.2 415.6Z" fill="#21908d"/>
<path d="M340.8 440.4L349.3 444.3L354.2 437.6L345.7 433.9Z" fill="#26828e"/>
<path d="M497.5 374.3L506.3 372L511.1 364.3L502.2 366.9Z" fill="#34b679"/>
<path d="M296.7 433.6L305.2 439.1L310.2 433L301.7 427.8Z" fill="#24878e"/>
<path d="M226.9 396.3L235.4 404.2L240.6 399.7L232.1 392.1Z" fill="#1fa187"/>
<path d="M542.9 335L551.8 330.7L556.5 323.2L547.5 327.7Z" fill="#75d054"/>
<path d="M574.8 303.3L583.8 297.5L588.5 290.1L579.4 296.1Z" fill="#bade28"/>
<path d="M362.8 441L371.3 444.1L376.3 437L367.7 434.1Z" fill="#25838e"/>
<path d="M235.4 404.2L244 411.8L249.1 406.9L240.6 399.7Z" fill="#1e9d89"/>
<path d="M511.1 364.3L519.9 361.5L524.6 353.7L515.8 356.9Z" fill="#42be71"/>
<path d="M274.6 427.3L283.1 433.6L288.2 427.8L279.7 421.8Z" fill="#228c8d"/>
<path d="M438.8 415.5L447.4 415.7L452.2 408L443.6 408.1Z" fill="#1f988b"/>
<path d="M425.3 422.4L433.9 423.2L438.8 415.5L430.1 415.1Z" fill="#20928c"/>
<path d="M452.2 408L460.9 407.7L465.7 399.9L457 400.6Z" fill="#1f9f88"/>
<path d="M411.8 428.7L420.4 430L425.3 422.4L416.6 421.4Z" fill="#218e8d"/>
<path d="M327.2 442.7L335.8 447.2L340.8 440.4L332.2 436.2Z" fill="#26828e"/>
<path d="M305.2 439.1L313.7 444.4L318.7 438L310.2 433Z" fill="#25848e"/>
<path d="M465.7 399.9L474.5 399L479.2 391.2L470.5 392.4Z" fill="#21a585"/>
<path d="M398.3 434.5L406.9 436.3L411.8 428.7L403.2 427.2Z" fill="#238a8d"/>
<path d="M244 411.8L252.5 419.1L257.6 414L249.1 406.9Z" fill="#1f988b"/>
<path d="M349.3 444.3L357.8 448L362.8 441L354.2 437.6Z" fill="#26828e"/>
<path d="M161.9 336.8L170.5 346.7L175.8 344L167.3 334.4Z" fill="#63cb5f"/>
<path d="M153.3 326.6L161.9 336.8L167.3 334.4L158.7 324.6Z" fill="#75d054"/>
<path d="M556.5 323.2L565.5 318.3L570.2 310.7L561.1 315.8Z" fill="#90d743"/>
<path d="M170.5 346.7L179 356.4L184.4 353.4L175.8 344Z" fill="#54c568"/>
<path d="M144.7 316.2L153.3 326.6L158.7 324.6L150.2 314.4Z" fill="#8bd646"/>
<path d="M524.6 353.7L533.5 350.3L538.2 342.6L529.3 346.3Z" fill="#56c667"/>
<path d="M179 356.4L187.6 365.8L192.9 362.5L184.4 353.4Z" fill="#44bf70"/>
<path d="M479.2 391.2L488 389.8L492.8 381.9L484 383.7Z" fill="#25ac82"/>
<path d="M384.8 439.6L393.4 441.9L398.3 434.5L389.7 432.4Z" fill="#24868e"/>
<path d="M283.1 433.6L291.6 439.6L296.7 433.6L288.2 427.8Z" fill="#23898e"/>
<path d="M187.6 365.8L196.1 374.9L201.4 371.3L192.9 362.5Z" fill="#38b977"/>
<path d="M252.5 419.1L261 426.2L266.1 420.8L257.6 414Z" fill="#20938c"/>
<path d="M588.5 290.1L597.6 283.8L602.2 276.3L593 282.9Z" fill="#dae319"/>
<path d="M196.1 374.9L204.6 383.8L209.9 379.9L201.4 371.3Z" fill="#2eb37c"/>
<path d="M492.8 381.9L501.6 379.9L506.3 372L497.5 374.3Z" fill="#2fb47c"/>
<path d="M371.3 444.1L379.9 447L384.8 439.6L376.3 437Z" fill="#25838e"/>
<path d="M313.7 444.4L322.2 449.4L327.2 442.7L318.7 438Z" fill="#26828e"/>
<path d="M204.6 383.8L213.2 392.4L218.4 388.3L209.9 379.9Z" fill="#27ad81"/>
<path d="M335.8 447.2L344.3 451.4L349.3 444.3L340.8 440.4Z" fill="#26818e"/>
<path d="M538.2 342.6L547.2 338.6L551.8 330.7L542.9 335Z" fill="#6ece58"/>
<path d="M291.6 439.6L300.1 445.4L305.2 439.1L296.7 433.6Z" fill="#25858e"/>
<path d="M261 426.2L269.5 433L274.6 427.3L266.1 420.8Z" fill="#218f8d"/>
<path d="M213.2 392.4L221.7 400.8L226.9 396.3L218.4 388.3Z" fill="#22a785"/>
<path d="M570.2 310.7L579.2 305.2L583.8 297.5L574.8 303.3Z" fill="#b0dd2f"/>
<path d="M506.3 372L515.2 369.4L519.9 361.5L511.1 364.3Z" fill="#3dbc74"/>
<path d="M357.8 448L366.4 451.5L371.3 444.1L362.8 441Z" fill="#26818e"/>
<path d="M433.9 423.2L442.6 423.6L447.4 415.7L438.8 415.5Z" fill="#1f958b"/>
<path d="M420.4 430L429.1 431L433.9 423.2L425.3 422.4Z" fill="#21908d"/>
<path d="M221.7 400.8L230.2 408.9L235.4 404.2L226.9 396.3Z" fill="#1fa187"/>
<path d="M447.4 415.7L456.1 415.7L460.9 407.7L452.2 408Z" fill="#1e9b8a"/>
<path d="M406.9 436.3L415.6 437.8L420.4 430L411.8 428.7Z" fill="#228b8d"/>
<path d="M460.9 407.7L469.7 407.1L474.5 399L465.7 399.9Z" fill="#1fa187"/>
<path d="M269.5 433L278 439.6L283.1 433.6L274.6 427.3Z" fill="#228b8d"/>
<path d="M393.4 441.9L402 444L406.9 436.3L398.3 434.5Z" fill="#24868e"/>
<path d="M322.2 449.4L330.8 454.1L335.8 447.2L327.2 442.7Z" fill="#27808e"/>
<path d="M230.2 408.9L238.8 416.8L244 411.8L235.4 404.2Z" fill="#1e9c89"/>
<path d="M551.8 330.7L560.8 326.2L565.5 318.3L556.5 323.2Z" fill="#89d548"/>
<path d="M300.1 445.4L308.7 451L313.7 444.4L305.2 439.1Z" fill="#26828e"/>
<path d="M519.9 361.5L528.8 358.3L533.5 350.3L524.6 353.7Z" fill="#4ec36b"/>
<path d="M344.3 451.4L352.9 455.4L357.8 448L349.3 444.3Z" fill="#277f8e"/>
<path d="M474.5 399L483.2 397.9L488 389.8L479.2 391.2Z" fill="#23a983"/>
<path d="M379.9 447L388.5 449.7L393.4 441.9L384.8 439.6Z" fill="#26828e"/>
<path d="M238.8 416.8L247.3 424.4L252.5 419.1L244 411.8Z" fill="#1f978b"/>
<path d="M583.8 297.5L593 291.5L597.6 283.8L588.5 290.1Z" fill="#d0e11c"/>
<path d="M278 439.6L286.6 445.9L291.6 439.6L283.1 433.6Z" fill="#24878e"/>
<path d="M488 389.8L496.8 388L501.6 379.9L492.8 381.9Z" fill="#2ab07f"/>
<path d="M366.4 451.5L375 454.7L379.9 447L371.3 444.1Z" fill="#27808e"/>
<path d="M533.5 350.3L542.5 346.6L547.2 338.6L538.2 342.6Z" fill="#65cb5e"/>
<path d="M247.3 424.4L255.8 431.8L261 426.2L252.5 419.1Z" fill="#20928c"/>
<path d="M308.7 451L317.2 456.3L322.2 449.4L313.7 444.4Z" fill="#27808e"/>
<path d="M330.8 454.1L339.3 458.6L344.3 451.4L335.8 447.2Z" fill="#277e8e"/>
<path d="M165.1 349.6L173.7 359.5L179 356.4L170.5 346.7Z" fill="#56c667"/>
<path d="M156.5 339.4L165.1 349.6L170.5 346.7L161.9 336.8Z" fill="#67cc5c"/>
<path d="M173.7 359.5L182.2 369.2L187.6 365.8L179 356.4Z" fill="#46c06f"/>
<path d="M147.9 328.9L156.5 339.4L161.9 336.8L153.3 326.6Z" fill="#7ad151"/>
<path d="M565.5 318.3L574.6 313.1L579.2 305.2L570.2 310.7Z" fill="#a5db36"/>
<path d="M182.2 369.2L190.8 378.7L196.1 374.9L187.6 365.8Z" fill="#3aba76"/>
<path d="M139.3 318.1L147.9 328.9L153.3 326.6L144.7 316.2Z" fill="#90d743"/>
<path d="M501.6 379.9L510.4 377.6L515.2 369.4L506.3 372Z" fill="#37b878"/>
<path d="M190.8 378.7L199.4 387.9L204.6 383.8L196.1 374.9Z" fill="#2fb47c"/>
<path d="M429.1 431L437.8 431.8L442.6 423.6L433.9 423.2Z" fill="#20928c"/>
<path d="M286.6 445.9L295.1 452L300.1 445.4L291.6 439.6Z" fill="#25838e"/>
<path d="M415.6 437.8L424.2 439.2L429.1 431L420.4 430Z" fill="#228c8d"/>
<path d="M352.9 455.4L361.5 459.1L366.4 451.5L357.8 448Z" fill="#277e8e"/>
<path d="M442.6 423.6L451.3 423.9L456.1 415.7L447.4 415.7Z" fill="#1f978b"/>
<path d="M255.8 431.8L264.4 438.9L269.5 433L261 426.2Z" fill="#218e8d"/>
<path d="M199.4 387.9L207.9 396.8L213.2 392.4L204.6 383.8Z" fill="#27ad81"/>
<path d="M402 444L410.7 445.9L415.6 437.8L406.9 436.3Z" fill="#24878e"/>
<path d="M456.1 415.7L464.9 415.3L469.7 407.1L460.9 407.7Z" fill="#1f9e89"/>
<path d="M207.9 396.8L216.5 405.5L221.7 400.8L213.2 392.4Z" fill="#22a785"/>
<path d="M388.5 449.7L397.1 452.1L402 444L393.4 441.9Z" fill="#25838e"/>
<path d="M547.2 338.6L556.2 334.3L560.8 326.2L551.8 330.7Z" fill="#7fd34e"/>
<path d="M515.2 369.4L524.1 366.6L528.8 358.3L519.9 361.5Z" fill="#46c06f"/>
<path d="M317.2 456.3L325.8 461.3L330.8 454.1L322.2 449.4Z" fill="#287d8e"/>
<path d="M469.7 407.1L478.5 406.2L483.2 397.9L474.5 399Z" fill="#21a585"/>
<path d="M216.5 405.5L225 413.9L230.2 408.9L221.7 400.8Z" fill="#1fa187"/>
<path d="M264.4 438.9L272.9 445.8L278 439.6L269.5 433Z" fill="#23898e"/>
<path d="M339.3 458.6L347.9 462.9L352.9 455.4L344.3 451.4Z" fill="#287c8e"/>
<path d="M295.1 452L303.6 457.9L308.7 451L300.1 445.4Z" fill="#27808e"/>
<path d="M375 454.7L383.6 457.6L388.5 449.7L379.9 447Z" fill="#27808e"/>
<path d="M579.2 305.2L588.3 299.5L593 291.5L583.8 297.5Z" fill="#c8e020"/>
<path d="M225 413.9L233.6 422.1L238.8 416.8L230.2 408.9Z" fill="#1e9c89"/>
<path d="M483.2 397.9L492.1 396.4L496.8 388L488 389.8Z" fill="#26ad81"/>
<path d="M361.5 459.1L370 462.6L375 454.7L366.4 451.5Z" fill="#287d8e"/>
<path d="M528.8 358.3L537.8 354.9L542.5 346.6L533.5 350.3Z" fill="#5cc863"/>
<path d="M272.9 445.8L281.5 452.5L286.6 445.9L278 439.6Z" fill="#25858e"/>
<path d="M233.6 422.1L242.1 430L247.3 424.4L238.8 416.8Z" fill="#1f968b"/>
<path d="M560.8 326.2L569.9 321.3L574.6 313.1L565.5 318.3Z" fill="#9bd93c"/>
<path d="M325.8 461.3L334.3 466.2L339.3 458.6L330.8 454.1Z" fill="#297b8e"/>
<path d="M496.8 388L505.7 386.1L510.4 377.6L501.6 379.9Z" fill="#31b57b"/>
<path d="M303.6 457.9L312.2 463.5L317.2 456.3L308.7 451Z" fill="#287d8e"/>
<path d="M424.2 439.2L432.9 440.2L437.8 431.8L429.1 431Z" fill="#218e8d"/>
<path d="M410.7 445.9L419.3 447.5L424.2 439.2L415.6 437.8Z" fill="#23888e"/>
<path d="M437.8 431.8L446.5 432.3L451.3 423.9L442.6 423.6Z" fill="#20938c"/>
<path d="M242.1 430L250.7 437.7L255.8 431.8L247.3 424.4Z" fill="#21918c"/>
<path d="M347.9 462.9L356.5 466.9L361.5 459.1L352.9 455.4Z" fill="#297a8e"/>
<path d="M397.1 452.1L405.8 454.2L410.7 445.9L402 444Z" fill="#25838e"/>
<path d="M451.3 423.9L460 423.8L464.9 415.3L456.1 415.7Z" fill="#1f9a8a"/>
<path d="M281.5 452.5L290 458.8L295.1 452L286.6 445.9Z" fill="#26828e"/>
<path d="M383.6 457.6L392.2 460.3L397.1 452.1L388.5 449.7Z" fill="#27808e"/>
<path d="M542.5 346.6L551.5 342.6L556.2 334.3L547.2 338.6Z" fill="#75d054"/>
<path d="M510.4 377.6L519.3 375.1L524.1 366.6L515.2 369.4Z" fill="#3fbc73"/>
<path d="M464.9 415.3L473.6 414.8L478.5 406.2L469.7 407.1Z" fill="#1fa188"/>
<path d="M250.7 437.7L259.2 445.1L264.4 438.9L255.8 431.8Z" fill="#228c8d"/>
<path d="M168.3 363L176.9 373L182.2 369.2L173.7 359.5Z" fill="#48c16e"/>
<path d="M159.7 352.7L168.3 363L173.7 359.5L165.1 349.6Z" fill="#58c765"/>
<path d="M176.9 373L185.5 382.7L190.8 378.7L182.2 369.2Z" fill="#3aba76"/>
<path d="M151.1 342.2L159.7 352.7L165.1 349.6L156.5 339.4Z" fill="#69cd5b"/>
<path d="M185.5 382.7L194.1 392.2L199.4 387.9L190.8 378.7Z" fill="#2fb47c"/>
<path d="M312.2 463.5L320.7 468.8L325.8 461.3L317.2 456.3Z" fill="#297a8e"/>
<path d="M142.4 331.4L151.1 342.2L156.5 339.4L147.9 328.9Z" fill="#7fd34e"/>
<path d="M370 462.6L378.7 465.8L383.6 457.6L375 454.7Z" fill="#287c8e"/>
<path d="M194.1 392.2L202.6 401.4L207.9 396.8L199.4 387.9Z" fill="#27ad81"/>
<path d="M334.3 466.2L342.9 470.7L347.9 462.9L339.3 458.6Z" fill="#29798e"/>
<path d="M133.8 320.3L142.4 331.4L147.9 328.9L139.3 318.1Z" fill="#95d840"/>
<path d="M574.6 313.1L583.7 307.7L588.3 299.5L579.2 305.2Z" fill="#bddf26"/>
<path d="M478.5 406.2L487.3 405L492.1 396.4L483.2 397.9Z" fill="#22a884"/>
<path d="M202.6 401.4L211.2 410.4L216.5 405.5L207.9 396.8Z" fill="#22a785"/>
<path d="M290 458.8L298.6 465L303.6 457.9L295.1 452Z" fill="#277e8e"/>
<path d="M259.2 445.1L267.8 452.3L272.9 445.8L264.4 438.9Z" fill="#24878e"/>
<path d="M211.2 410.4L219.8 419.1L225 413.9L216.5 405.5Z" fill="#1fa188"/>
<path d="M524.1 366.6L533 363.5L537.8 354.9L528.8 358.3Z" fill="#52c569"/>
<path d="M356.5 466.9L365.1 470.7L370 462.6L361.5 459.1Z" fill="#29798e"/>
<path d="M556.2 334.3L565.2 329.7L569.9 321.3L560.8 326.2Z" fill="#90d743"/>
<path d="M492.1 396.4L500.9 394.7L505.7 386.1L496.8 388Z" fill="#2ab07f"/>
<path d="M219.8 419.1L228.4 427.6L233.6 422.1L225 413.9Z" fill="#1e9b8a"/>
<path d="M419.3 447.5L428 448.9L432.9 440.2L424.2 439.2Z" fill="#23898e"/>
<path d="M267.8 452.3L276.4 459.2L281.5 452.5L272.9 445.8Z" fill="#26828e"/>
<path d="M320.7 468.8L329.3 473.9L334.3 466.2L325.8 461.3Z" fill="#2a778e"/>
<path d="M405.8 454.2L414.4 456.1L419.3 447.5L410.7 445.9Z" fill="#25848e"/>
<path d="M432.9 440.2L441.6 441L446.5 432.3L437.8 431.8Z" fill="#218f8d"/>
<path d="M298.6 465L307.1 470.9L312.2 463.5L303.6 457.9Z" fill="#297a8e"/>
<path d="M228.4 427.6L236.9 435.8L242.1 430L233.6 422.1Z" fill="#1f958b"/>
<path d="M392.2 460.3L400.9 462.8L405.8 454.2L397.1 452.1Z" fill="#27808e"/>
<path d="M446.5 432.3L455.2 432.6L460 423.8L451.3 423.9Z" fill="#1f958b"/>
<path d="M342.9 470.7L351.5 475L356.5 466.9L347.9 462.9Z" fill="#2a778e"/>
<path d="M505.7 386.1L514.6 383.8L519.3 375.1L510.4 377.6Z" fill="#38b977"/>
<path d="M537.8 354.9L546.7 351.2L551.5 342.6L542.5 346.6Z" fill="#69cd5b"/>
<path d="M378.7 465.8L387.3 468.8L392.2 460.3L383.6 457.6Z" fill="#287c8e"/>
<path d="M460 423.8L468.8 423.6L473.6 414.8L464.9 415.3Z" fill="#1e9d89"/>
<path d="M236.9 435.8L245.5 443.8L250.7 437.7L242.1 430Z" fill="#21908d"/>
<path d="M276.4 459.2L284.9 465.9L290 458.8L281.5 452.5Z" fill="#277f8e"/>
<path d="M365.1 470.7L373.7 474.2L378.7 465.8L370 462.6Z" fill="#2a788e"/>
<path d="M473.6 414.8L482.4 413.9L487.3 405L478.5 406.2Z" fill="#20a486"/>
<path d="M569.9 321.3L579 316.2L583.7 307.7L574.6 313.1Z" fill="#b0dd2f"/>
<path d="M307.1 470.9L315.7 476.5L320.7 468.8L312.2 463.5Z" fill="#2a778e"/>
<path d="M245.5 443.8L254.1 451.5L259.2 445.1L250.7 437.7Z" fill="#238a8d"/>
<path d="M329.3 473.9L337.9 478.8L342.9 470.7L334.3 466.2Z" fill="#2b758e"/>
<path d="M519.3 375.1L528.3 372.2L533 363.5L524.1 366.6Z" fill="#4ac16d"/>
<path d="M284.9 465.9L293.5 472.3L298.6 465L290 458.8Z" fill="#297b8e"/>
<path d="M351.5 475L360.1 479.1L365.1 470.7L356.5 466.9Z" fill="#2b758e"/>
<path d="M171.5 376.9L180.1 387L185.5 382.7L176.9 373Z" fill="#3bbb75"/>
<path d="M487.3 405L496.1 403.7L500.9 394.7L492.1 396.4Z" fill="#26ad81"/>
<path d="M162.9 366.6L171.5 376.9L176.9 373L168.3 363Z" fill="#4ac16d"/>
<path d="M254.1 451.5L262.7 459L267.8 452.3L259.2 445.1Z" fill="#25858e"/>
<path d="M180.1 387L188.8 396.8L194.1 392.2L185.5 382.7Z" fill="#2fb47c"/>
<path d="M551.5 342.6L560.5 338.4L565.2 329.7L556.2 334.3Z" fill="#86d549"/>
<path d="M154.3 356L162.9 366.6L168.3 363L159.7 352.7Z" fill="#5ac864"/>
<path d="M188.8 396.8L197.4 406.3L202.6 401.4L194.1 392.2Z" fill="#26ad81"/>
<path d="M414.4 456.1L423.1 457.8L428 448.9L419.3 447.5Z" fill="#25858e"/>
<path d="M145.6 345.2L154.3 356L159.7 352.7L151.1 342.2Z" fill="#6ece58"/>
<path d="M428 448.9L436.7 450L441.6 441L432.9 440.2Z" fill="#228b8d"/>
<path d="M197.4 406.3L206 415.6L211.2 410.4L202.6 401.4Z" fill="#21a685"/>
<path d="M400.9 462.8L409.5 464.9L414.4 456.1L405.8 454.2Z" fill="#27808e"/>
<path d="M136.9 334.1L145.6 345.2L151.1 342.2L142.4 331.4Z" fill="#81d34d"/>
<path d="M315.7 476.5L324.3 481.9L329.3 473.9L320.7 468.8Z" fill="#2b748e"/>
<path d="M441.6 441L450.3 441.6L455.2 432.6L446.5 432.3Z" fill="#20928c"/>
<path d="M206 415.6L214.6 424.6L219.8 419.1L211.2 410.4Z" fill="#1fa088"/>
<path d="M387.3 468.8L395.9 471.5L400.9 462.8L392.2 460.3Z" fill="#297b8e"/>
<path d="M262.7 459L271.2 466.2L276.4 459.2L267.8 452.3Z" fill="#26818e"/>
<path d="M128.3 322.7L136.9 334.1L142.4 331.4L133.8 320.3Z" fill="#9bd93c"/>
<path d="M293.5 472.3L302.1 478.5L307.1 470.9L298.6 465Z" fill="#2a778e"/>
<path d="M337.9 478.8L346.5 483.4L351.5 475L342.9 470.7Z" fill="#2c738e"/>
<path d="M500.9 394.7L509.8 392.8L514.6 383.8L505.7 386.1Z" fill="#31b57b"/>
<path d="M214.6 424.6L223.1 433.4L228.4 427.6L219.8 419.1Z" fill="#1f998a"/>
<path d="M533 363.5L542 360.1L546.7 351.2L537.8 354.9Z" fill="#60ca60"/>
<path d="M455.2 432.6L464 432.6L468.8 423.6L460 423.8Z" fill="#1f988b"/>
<path d="M373.7 474.2L382.3 477.5L387.3 468.8L378.7 465.8Z" fill="#2a778e"/>
<path d="M223.1 433.4L231.7 441.9L236.9 435.8L228.4 427.6Z" fill="#20938c"/>
<path d="M468.8 423.6L477.6 423L482.4 413.9L473.6 414.8Z" fill="#1fa088"/>
<path d="M271.2 466.2L279.8 473.2L284.9 465.9L276.4 459.2Z" fill="#287c8e"/>
<path d="M360.1 479.1L368.7 482.9L373.7 474.2L365.1 470.7Z" fill="#2b748e"/>
<path d="M565.2 329.7L574.3 324.9L579 316.2L569.9 321.3Z" fill="#a5db36"/>
<path d="M231.7 441.9L240.3 450.2L245.5 443.8L236.9 435.8Z" fill="#218e8d"/>
<path d="M324.3 481.9L332.9 487L337.9 478.8L329.3 473.9Z" fill="#2c718e"/>
<path d="M302.1 478.5L310.7 484.4L315.7 476.5L307.1 470.9Z" fill="#2c738e"/>
<path d="M514.6 383.8L523.5 381.3L528.3 372.2L519.3 375.1Z" fill="#40bd72"/>
<path d="M482.4 413.9L491.3 412.8L496.1 403.7L487.3 405Z" fill="#22a884"/>
<path d="M240.3 450.2L248.9 458.2L254.1 451.5L245.5 443.8Z" fill="#23888e"/>
<path d="M546.7 351.2L555.8 347.3L560.5 338.4L551.5 342.6Z" fill="#7ad151"/>
<path d="M346.5 483.4L355.1 487.7L360.1 479.1L351.5 475Z" fill="#2c718e"/>
<path d="M279.8 473.2L288.4 479.9L293.5 472.3L284.9 465.9Z" fill="#2a788e"/>
<path d="M409.5 464.9L418.2 466.9L423.1 457.8L414.4 456.1Z" fill="#26818e"/>
<path d="M423.1 457.8L431.8 459.2L436.7 450L428 448.9Z" fill="#24868e"/>
<path d="M395.9 471.5L404.6 474L409.5 464.9L400.9 462.8Z" fill="#287c8e"/>
<path d="M436.7 450L445.5 450.8L450.3 441.6L441.6 441Z" fill="#228d8d"/>
<path d="M248.9 458.2L257.5 465.9L262.7 459L254.1 451.5Z" fill="#25838e"/>
<path d="M382.3 477.5L391 480.6L395.9 471.5L387.3 468.8Z" fill="#2a778e"/>
<path d="M310.7 484.4L319.3 490.1L324.3 481.9L315.7 476.5Z" fill="#2d718e"/>
<path d="M496.1 403.7L505 402L509.8 392.8L500.9 394.7Z" fill="#2ab07f"/>
<path d="M450.3 441.6L459.1 441.9L464 432.6L455.2 432.6Z" fill="#20938c"/>
<path d="M528.3 372.2L537.2 369.2L542 360.1L533 363.5Z" fill="#56c667"/>
<path d="M332.9 487L341.5 491.9L346.5 483.4L337.9 478.8Z" fill="#2d708e"/>
<path d="M368.7 482.9L377.4 486.5L382.3 477.5L373.7 474.2Z" fill="#2c738e"/>
<path d="M288.4 479.9L297 486.4L302.1 478.5L293.5 472.3Z" fill="#2b748e"/>
<path d="M174.8 391.5L183.4 401.6L188.8 396.8L180.1 387Z" fill="#2fb47c"/>
<path d="M166.1 381.1L174.8 391.5L180.1 387L171.5 376.9Z" fill="#3bbb75"/>
<path d="M183.4 401.6L192.1 411.4L197.4 406.3L188.8 396.8Z" fill="#26ad81"/>
<path d="M257.5 465.9L266.1 473.4L271.2 466.2L262.7 459Z" fill="#277e8e"/>
<path d="M157.5 370.5L166.1 381.1L171.5 376.9L162.9 366.6Z" fill="#4ac16d"/>
<path d="M192.1 411.4L200.7 421L206 415.6L197.4 406.3Z" fill="#21a585"/>
<path d="M464 432.6L472.8 432.4L477.6 423L468.8 423.6Z" fill="#1e9b8a"/>
<path d="M148.8 359.6L157.5 370.5L162.9 366.6L154.3 356Z" fill="#5cc863"/>
<path d="M200.7 421L209.3 430.3L214.6 424.6L206 415.6Z" fill="#1f9f88"/>
<path d="M560.5 338.4L569.6 333.8L574.3 324.9L565.2 329.7Z" fill="#98d83e"/>
<path d="M355.1 487.7L363.8 491.8L368.7 482.9L360.1 479.1Z" fill="#2d708e"/>
<path d="M140.1 348.5L148.8 359.6L154.3 356L145.6 345.2Z" fill="#70cf57"/>
<path d="M209.3 430.3L217.9 439.4L223.1 433.4L214.6 424.6Z" fill="#1f988b"/>
<path d="M509.8 392.8L518.7 390.6L523.5 381.3L514.6 383.8Z" fill="#38b977"/>
<path d="M131.5 337.1L140.1 348.5L145.6 345.2L136.9 334.1Z" fill="#86d549"/>
<path d="M266.1 473.4L274.7 480.7L279.8 473.2L271.2 466.2Z" fill="#29798e"/>
<path d="M319.3 490.1L327.9 495.5L332.9 487L324.3 481.9Z" fill="#2e6e8e"/>
<path d="M217.9 439.4L226.5 448.2L231.7 441.9L223.1 433.4Z" fill="#20928c"/>
<path d="M477.6 423L486.5 422.2L491.3 412.8L482.4 413.9Z" fill="#20a386"/>
<path d="M297 486.4L305.6 492.6L310.7 484.4L302.1 478.5Z" fill="#2d718e"/>
<path d="M542 360.1L551 356.4L555.8 347.3L546.7 351.2Z" fill="#6ece58"/>
<path d="M122.7 325.4L131.5 337.1L136.9 334.1L128.3 322.7Z" fill="#9dd93b"/>
<path d="M341.5 491.9L350.1 496.6L355.1 487.7L346.5 483.4Z" fill="#2e6d8e"/>
<path d="M226.5 448.2L235.1 456.7L240.3 450.2L231.7 441.9Z" fill="#228c8d"/>
<path d="M404.6 474L413.3 476.3L418.2 466.9L409.5 464.9Z" fill="#287c8e"/>
<path d="M418.2 466.9L426.9 468.6L431.8 459.2L423.1 457.8Z" fill="#26828e"/>
<path d="M391 480.6L399.7 483.3L404.6 474L395.9 471.5Z" fill="#2a778e"/>
<path d="M431.8 459.2L440.6 460.3L445.5 450.8L436.7 450Z" fill="#23888e"/>
<path d="M274.7 480.7L283.3 487.7L288.4 479.9L279.8 473.2Z" fill="#2b748e"/>
<path d="M377.4 486.5L386 489.8L391 480.6L382.3 477.5Z" fill="#2c728e"/>
<path d="M235.1 456.7L243.7 465.1L248.9 458.2L240.3 450.2Z" fill="#24868e"/>
<path d="M491.3 412.8L500.2 411.4L505 402L496.1 403.7Z" fill="#25ac82"/>
<path d="M445.5 450.8L454.2 451.4L459.1 441.9L450.3 441.6Z" fill="#218f8d"/>
<path d="M523.5 381.3L532.5 378.5L537.2 369.2L528.3 372.2Z" fill="#4cc26c"/>
<path d="M305.6 492.6L314.2 498.6L319.3 490.1L310.7 484.4Z" fill="#2e6d8e"/>
<path d="M363.8 491.8L372.4 495.7L377.4 486.5L368.7 482.9Z" fill="#2e6f8e"/>
<path d="M327.9 495.5L336.5 500.7L341.5 491.9L332.9 487Z" fill="#2f6b8e"/>
<path d="M243.7 465.1L252.3 473.1L257.5 465.9L248.9 458.2Z" fill="#26818e"/>
<path d="M459.1 441.9L467.9 442L472.8 432.4L464 432.6Z" fill="#1f968b"/>
<path d="M283.3 487.7L291.9 494.5L297 486.4L288.4 479.9Z" fill="#2d718e"/>
<path d="M555.8 347.3L564.9 343L569.6 333.8L560.5 338.4Z" fill="#8bd646"/>
<path d="M350.1 496.6L358.8 501L363.8 491.8L355.1 487.7Z" fill="#2f6c8e"/>
<path d="M252.3 473.1L261 480.9L266.1 473.4L257.5 465.9Z" fill="#297b8e"/>
<path d="M505 402L513.9 400.1L518.7 390.6L509.8 392.8Z" fill="#31b57b"/>
<path d="M472.8 432.4L481.6 431.9L486.5 422.2L477.6 423Z" fill="#1f9e89"/>
<path d="M314.2 498.6L322.8 504.3L327.9 495.5L319.3 490.1Z" fill="#306a8e"/>
<path d="M537.2 369.2L546.3 365.8L551 356.4L542 360.1Z" fill="#63cb5f"/>
<path d="M178.1 406.6L186.7 416.7L192.1 411.4L183.4 401.6Z" fill="#25ac82"/>
<path d="M186.7 416.7L195.4 426.6L200.7 421L192.1 411.4Z" fill="#20a486"/>
<path d="M169.4 396.2L178.1 406.6L183.4 401.6L174.8 391.5Z" fill="#2eb37c"/>
<path d="M399.7 483.3L408.4 485.9L413.3 476.3L404.6 474Z" fill="#2a778e"/>
<path d="M195.4 426.6L204 436.2L209.3 430.3L200.7 421Z" fill="#1f9e89"/>
<path d="M160.7 385.5L169.4 396.2L174.8 391.5L166.1 381.1Z" fill="#3aba76"/>
<path d="M413.3 476.3L422 478.3L426.9 468.6L418.2 466.9Z" fill="#287d8e"/>
<path d="M291.9 494.5L300.5 501L305.6 492.6L297 486.4Z" fill="#2e6d8e"/>
<path d="M261 480.9L269.6 488.5L274.7 480.7L266.1 473.4Z" fill="#2a768e"/>
<path d="M336.5 500.7L345.1 505.7L350.1 496.6L341.5 491.9Z" fill="#30698e"/>
<path d="M386 489.8L394.7 492.9L399.7 483.3L391 480.6Z" fill="#2c718e"/>
<path d="M204 436.2L212.7 445.6L217.9 439.4L209.3 430.3Z" fill="#1f968b"/>
<path d="M152.1 374.6L160.7 385.5L166.1 381.1L157.5 370.5Z" fill="#4ac16d"/>
<path d="M426.9 468.6L435.7 470L440.6 460.3L431.8 459.2Z" fill="#26828e"/>
<path d="M212.7 445.6L221.3 454.7L226.5 448.2L217.9 439.4Z" fill="#21908d"/>
<path d="M143.4 363.4L152.1 374.6L157.5 370.5L148.8 359.6Z" fill="#5cc863"/>
<path d="M372.4 495.7L381.1 499.3L386 489.8L377.4 486.5Z" fill="#2e6e8e"/>
<path d="M486.5 422.2L495.3 421.2L500.2 411.4L491.3 412.8Z" fill="#21a685"/>
<path d="M440.6 460.3L449.3 461.2L454.2 451.4L445.5 450.8Z" fill="#23898e"/>
<path d="M518.7 390.6L527.7 388.1L532.5 378.5L523.5 381.3Z" fill="#40bd72"/>
<path d="M221.3 454.7L229.9 463.6L235.1 456.7L226.5 448.2Z" fill="#238a8d"/>
<path d="M134.7 352L143.4 363.4L148.8 359.6L140.1 348.5Z" fill="#70cf57"/>
<path d="M269.6 488.5L278.2 495.8L283.3 487.7L274.7 480.7Z" fill="#2c718e"/>
<path d="M358.8 501L367.4 505.1L372.4 495.7L363.8 491.8Z" fill="#306a8e"/>
<path d="M322.8 504.3L331.4 509.8L336.5 500.7L327.9 495.5Z" fill="#31678e"/>
<path d="M454.2 451.4L463 451.8L467.9 442L459.1 441.9Z" fill="#21918c"/>
<path d="M300.5 501L309.1 507.3L314.2 498.6L305.6 492.6Z" fill="#30698e"/>
<path d="M229.9 463.6L238.5 472.2L243.7 465.1L235.1 456.7Z" fill="#25838e"/>
<path d="M125.9 340.3L134.7 352L140.1 348.5L131.5 337.1Z" fill="#89d548"/>
<path d="M551 356.4L560.1 352.5L564.9 343L555.8 347.3Z" fill="#7fd34e"/>
<path d="M500.2 411.4L509.1 409.8L513.9 400.1L505 402Z" fill="#29af7f"/>
<path d="M345.1 505.7L353.8 510.4L358.8 501L350.1 496.6Z" fill="#31678e"/>
<path d="M238.5 472.2L247.2 480.5L252.3 473.1L243.7 465.1Z" fill="#277e8e"/>
<path d="M117.2 328.3L125.9 340.3L131.5 337.1L122.7 325.4Z" fill="#a0da39"/>
<path d="M278.2 495.8L286.8 502.8L291.9 494.5L283.3 487.7Z" fill="#2e6d8e"/>
<path d="M467.9 442L476.7 441.7L481.6 431.9L472.8 432.4Z" fill="#1f998a"/>
<path d="M532.5 378.5L541.5 375.4L546.3 365.8L537.2 369.2Z" fill="#56c667"/>
<path d="M247.2 480.5L255.8 488.6L261 480.9L252.3 473.1Z" fill="#2a788e"/>
<path d="M394.7 492.9L403.4 495.7L408.4 485.9L399.7 483.3Z" fill="#2c718e"/>
<path d="M408.4 485.9L417.1 488.2L422 478.3L413.3 476.3Z" fill="#2a778e"/>
<path d="M309.1 507.3L317.8 513.3L322.8 504.3L314.2 498.6Z" fill="#32658e"/>
<path d="M381.1 499.3L389.7 502.7L394.7 492.9L386 489.8Z" fill="#2e6d8e"/>
<path d="M422 478.3L430.8 480L435.7 470L426.9 468.6Z" fill="#277e8e"/>
<path d="M331.4 509.8L340.1 515L345.1 505.7L336.5 500.7Z" fill="#32648e"/>
<path d="M286.8 502.8L295.4 509.7L300.5 501L291.9 494.5Z" fill="#30698e"/>
<path d="M481.6 431.9L490.5 431.1L495.3 421.2L486.5 422.2Z" fill="#1fa187"/>
<path d="M367.4 505.1L376.1 509.1L381.1 499.3L372.4 495.7Z" fill="#30698e"/>
<path d="M435.7 470L444.4 471.2L449.3 461.2L440.6 460.3Z" fill="#25848e"/>
<path d="M255.8 488.6L264.4 496.5L269.6 488.5L261 480.9Z" fill="#2c728e"/>
<path d="M513.9 400.1L522.9 397.9L527.7 388.1L518.7 390.6Z" fill="#38b977"/>
<path d="M181.4 422.3L190.1 432.5L195.4 426.6L186.7 416.7Z" fill="#20a386"/>
<path d="M353.8 510.4L362.4 514.8L367.4 505.1L358.8 501Z" fill="#32658e"/>
<path d="M190.1 432.5L198.7 442.4L204 436.2L195.4 426.6Z" fill="#1e9c89"/>
<path d="M449.3 461.2L458.1 461.9L463 451.8L454.2 451.4Z" fill="#228b8d"/>
<path d="M172.7 411.9L181.4 422.3L186.7 416.7L178.1 406.6Z" fill="#25ab82"/>
<path d="M198.7 442.4L207.4 452.1L212.7 445.6L204 436.2Z" fill="#1f948c"/>
<path d="M164 401.2L172.7 411.9L178.1 406.6L169.4 396.2Z" fill="#2db27d"/>
<path d="M317.8 513.3L326.4 519.1L331.4 509.8L322.8 504.3Z" fill="#33628d"/>
<path d="M264.4 496.5L273.1 504.1L278.2 495.8L269.6 488.5Z" fill="#2e6e8e"/>
<path d="M207.4 452.1L216 461.5L221.3 454.7L212.7 445.6Z" fill="#218e8d"/>
<path d="M155.3 390.2L164 401.2L169.4 396.2L160.7 385.5Z" fill="#3aba76"/>
<path d="M295.4 509.7L304.1 516.2L309.1 507.3L300.5 501Z" fill="#32648e"/>
<path d="M546.3 365.8L555.3 362.2L560.1 352.5L551 356.4Z" fill="#70cf57"/>
<path d="M495.3 421.2L504.2 419.8L509.1 409.8L500.2 411.4Z" fill="#24aa83"/>
<path d="M216 461.5L224.7 470.7L229.9 463.6L221.3 454.7Z" fill="#24878e"/>
<path d="M146.6 379L155.3 390.2L160.7 385.5L152.1 374.6Z" fill="#4ac16d"/>
<path d="M340.1 515L348.7 520L353.8 510.4L345.1 505.7Z" fill="#34618d"/>
<path d="M463 451.8L471.9 451.9L476.7 441.7L467.9 442Z" fill="#20938c"/>
<path d="M224.7 470.7L233.3 479.6L238.5 472.2L229.9 463.6Z" fill="#26818e"/>
<path d="M137.9 367.5L146.6 379L152.1 374.6L143.4 363.4Z" fill="#5cc863"/>
<path d="M527.7 388.1L536.7 385.3L541.5 375.4L532.5 378.5Z" fill="#4cc26c"/>
<path d="M273.1 504.1L281.7 511.4L286.8 502.8L278.2 495.8Z" fill="#30698e"/>
<path d="M403.4 495.7L412.1 498.3L417.1 488.2L408.4 485.9Z" fill="#2c718e"/>
<path d="M389.7 502.7L398.5 505.8L403.4 495.7L394.7 492.9Z" fill="#2e6d8e"/>
<path d="M233.3 479.6L242 488.2L247.2 480.5L238.5 472.2Z" fill="#297b8e"/>
<path d="M417.1 488.2L425.8 490.2L430.8 480L422 478.3Z" fill="#2a788e"/>
<path d="M376.1 509.1L384.8 512.7L389.7 502.7L381.1 499.3Z" fill="#31678e"/>
<path d="M129.2 355.7L137.9 367.5L143.4 363.4L134.7 352Z" fill="#73d056"/>
<path d="M304.1 516.2L312.7 522.5L317.8 513.3L309.1 507.3Z" fill="#34608d"/>
<path d="M326.4 519.1L335 524.6L340.1 515L331.4 509.8Z" fill="#355f8d"/>
<path d="M476.7 441.7L485.6 441.3L490.5 431.1L481.6 431.9Z" fill="#1e9c89"/>
<path d="M430.8 480L439.5 481.5L444.4 471.2L435.7 470Z" fill="#277f8e"/>
<path d="M362.4 514.8L371.1 519L376.1 509.1L367.4 505.1Z" fill="#33638d"/>
<path d="M242 488.2L250.6 496.6L255.8 488.6L247.2 480.5Z" fill="#2b758e"/>
<path d="M509.1 409.8L518 407.9L522.9 397.9L513.9 400.1Z" fill="#2fb47c"/>
<path d="M120.4 343.7L129.2 355.7L134.7 352L125.9 340.3Z" fill="#89d548"/>
<path d="M281.7 511.4L290.3 518.5L295.4 509.7L286.8 502.8Z" fill="#32648e"/>
<path d="M444.4 471.2L453.2 472.2L458.1 461.9L449.3 461.2Z" fill="#25858e"/>
<path d="M348.7 520L357.4 524.8L362.4 514.8L353.8 510.4Z" fill="#355f8d"/>
<path d="M250.6 496.6L259.3 504.7L264.4 496.5L255.8 488.6Z" fill="#2d708e"/>
<path d="M111.6 331.4L120.4 343.7L125.9 340.3L117.2 328.3Z" fill="#a5db36"/>
<path d="M312.7 522.5L321.3 528.6L326.4 519.1L317.8 513.3Z" fill="#365d8d"/>
<path d="M541.5 375.4L550.5 372.1L555.3 362.2L546.3 365.8Z" fill="#65cb5e"/>
<path d="M490.5 431.1L499.4 430.1L504.2 419.8L495.3 421.2Z" fill="#21a585"/>
<path d="M458.1 461.9L467 462.2L471.9 451.9L463 451.8Z" fill="#218e8d"/>
<path d="M290.3 518.5L299 525.4L304.1 516.2L295.4 509.7Z" fill="#34608d"/>
<path d="M259.3 504.7L267.9 512.6L273.1 504.1L264.4 496.5Z" fill="#306a8e"/>
<path d="M335 524.6L343.7 529.9L348.7 520L340.1 515Z" fill="#365c8d"/>
<path d="M522.9 397.9L531.9 395.4L536.7 385.3L527.7 388.1Z" fill="#40bd72"/>
<path d="M398.5 505.8L407.2 508.7L412.1 498.3L403.4 495.7Z" fill="#2f6c8e"/>
<path d="M184.8 438.6L193.4 448.8L198.7 442.4L190.1 432.5Z" fill="#1f9a8a"/>
<path d="M193.4 448.8L202.1 458.8L207.4 452.1L198.7 442.4Z" fill="#20928c"/>
<path d="M384.8 512.7L393.5 516.1L398.5 505.8L389.7 502.7Z" fill="#31678e"/>
<path d="M176.1 428.1L184.8 438.6L190.1 432.5L181.4 422.3Z" fill="#1fa187"/>
<path d="M202.1 458.8L210.8 468.5L216 461.5L207.4 452.1Z" fill="#228c8d"/>
<path d="M412.1 498.3L420.9 500.6L425.8 490.2L417.1 488.2Z" fill="#2c728e"/>
<path d="M167.4 417.4L176.1 428.1L181.4 422.3L172.7 411.9Z" fill="#24aa83"/>
<path d="M371.1 519L379.8 523L384.8 512.7L376.1 509.1Z" fill="#33628d"/>
<path d="M210.8 468.5L219.5 478L224.7 470.7L216 461.5Z" fill="#25848e"/>
<path d="M267.9 512.6L276.6 520.3L281.7 511.4L273.1 504.1Z" fill="#32658e"/>
<path d="M158.6 406.4L167.4 417.4L172.7 411.9L164 401.2Z" fill="#2cb17e"/>
<path d="M471.9 451.9L480.7 451.7L485.6 441.3L476.7 441.7Z" fill="#1f968b"/>
<path d="M425.8 490.2L434.6 492L439.5 481.5L430.8 480Z" fill="#29798e"/>
<path d="M219.5 478L228.1 487.2L233.3 479.6L224.7 470.7Z" fill="#277e8e"/>
<path d="M299 525.4L307.6 532L312.7 522.5L304.1 516.2Z" fill="#375b8d"/>
<path d="M321.3 528.6L330 534.4L335 524.6L326.4 519.1Z" fill="#38598c"/>
<path d="M504.2 419.8L513.2 418.2L518 407.9L509.1 409.8Z" fill="#28ae80"/>
<path d="M357.4 524.8L366.1 529.3L371.1 519L362.4 514.8Z" fill="#365d8d"/>
<path d="M149.9 395.1L158.6 406.4L164 401.2L155.3 390.2Z" fill="#38b977"/>
<path d="M228.1 487.2L236.8 496.1L242 488.2L233.3 479.6Z" fill="#2a788e"/>
<path d="M439.5 481.5L448.3 482.7L453.2 472.2L444.4 471.2Z" fill="#27808e"/>
<path d="M141.2 383.6L149.9 395.1L155.3 390.2L146.6 379Z" fill="#4ac16d"/>
<path d="M276.6 520.3L285.2 527.7L290.3 518.5L281.7 511.4Z" fill="#34608d"/>
<path d="M343.7 529.9L352.4 534.9L357.4 524.8L348.7 520Z" fill="#38598c"/>
<path d="M236.8 496.1L245.4 504.8L250.6 496.6L242 488.2Z" fill="#2c718e"/>
<path d="M132.4 371.8L141.2 383.6L146.6 379L137.9 367.5Z" fill="#5cc863"/>
<path d="M485.6 441.3L494.5 440.5L499.4 430.1L490.5 431.1Z" fill="#1f9f88"/>
<path d="M536.7 385.3L545.7 382.3L550.5 372.1L541.5 375.4Z" fill="#58c765"/>
<path d="M453.2 472.2L462.1 472.8L467 462.2L458.1 461.9Z" fill="#24878e"/>
<path d="M307.6 532L316.3 538.4L321.3 528.6L312.7 522.5Z" fill="#39568c"/>
<path d="M245.4 504.8L254.1 513.2L259.3 504.7L250.6 496.6Z" fill="#2f6c8e"/>
<path d="M330 534.4L338.7 540L343.7 529.9L335 524.6Z" fill="#39558c"/>
<path d="M123.7 359.7L132.4 371.8L137.9 367.5L129.2 355.7Z" fill="#73d056"/>
<path d="M285.2 527.7L293.9 534.8L299 525.4L290.3 518.5Z" fill="#375b8d"/>
<path d="M518 407.9L527 405.8L531.9 395.4L522.9 397.9Z" fill="#37b878"/>
<path d="M393.5 516.1L402.2 519.3L407.2 508.7L398.5 505.8Z" fill="#31668e"/>
<path d="M379.8 523L388.5 526.7L393.5 516.1L384.8 512.7Z" fill="#34608d"/>
<path d="M407.2 508.7L415.9 511.3L420.9 500.6L412.1 498.3Z" fill="#2f6c8e"/>
<path d="M254.1 513.2L262.8 521.4L267.9 512.6L259.3 504.7Z" fill="#31668e"/>
<path d="M366.1 529.3L374.8 533.5L379.8 523L371.1 519Z" fill="#375b8d"/>
<path d="M467 462.2L475.8 462.4L480.7 451.7L471.9 451.9Z" fill="#21908d"/>
<path d="M420.9 500.6L429.6 502.7L434.6 492L425.8 490.2Z" fill="#2c728e"/>
<path d="M114.9 347.4L123.7 359.7L129.2 355.7L120.4 343.7Z" fill="#8bd646"/>
<path d="M499.4 430.1L508.3 428.8L513.2 418.2L504.2 419.8Z" fill="#23a983"/>
<path d="M352.4 534.9L361.1 539.7L366.1 529.3L357.4 524.8Z" fill="#39568c"/>
<path d="M316.3 538.4L324.9 544.5L330 534.4L321.3 528.6Z" fill="#3a538b"/>
<path d="M262.8 521.4L271.4 529.4L276.6 520.3L267.9 512.6Z" fill="#34608d"/>
<path d="M293.9 534.8L302.5 541.7L307.6 532L299 525.4Z" fill="#39558c"/>
<path d="M434.6 492L443.4 493.5L448.3 482.7L439.5 481.5Z" fill="#297a8e"/>
<path d="M188.1 455.5L196.8 465.8L202.1 458.8L193.4 448.8Z" fill="#21918c"/>
<path d="M196.8 465.8L205.5 475.8L210.8 468.5L202.1 458.8Z" fill="#23898e"/>
<path d="M106.1 334.8L114.9 347.4L120.4 343.7L111.6 331.4Z" fill="#a5db36"/>
<path d="M179.4 445L188.1 455.5L193.4 448.8L184.8 438.6Z" fill="#1f988b"/>
<path d="M205.5 475.8L214.2 485.5L219.5 478L210.8 468.5Z" fill="#26828e"/>
<path d="M170.7 434.2L179.4 445L184.8 438.6L176.1 428.1Z" fill="#1fa188"/>
<path d="M338.7 540L347.3 545.3L352.4 534.9L343.7 529.9Z" fill="#3b528b"/>
<path d="M214.2 485.5L222.9 495L228.1 487.2L219.5 478Z" fill="#297b8e"/>
<path d="M480.7 451.7L489.6 451.3L494.5 440.5L485.6 441.3Z" fill="#1f998a"/>
<path d="M162 423.1L170.7 434.2L176.1 428.1L167.4 417.4Z" fill="#22a884"/>
<path d="M271.4 529.4L280.1 537L285.2 527.7L276.6 520.3Z" fill="#375b8d"/>
<path d="M448.3 482.7L457.1 483.7L462.1 472.8L453.2 472.2Z" fill="#26828e"/>
<path d="M531.9 395.4L540.9 392.7L545.7 382.3L536.7 385.3Z" fill="#4ac16d"/>
<path d="M222.9 495L231.6 504.2L236.8 496.1L228.1 487.2Z" fill="#2b748e"/>
<path d="M153.2 411.8L162 423.1L167.4 417.4L158.6 406.4Z" fill="#2ab07f"/>
<path d="M302.5 541.7L311.2 548.4L316.3 538.4L307.6 532Z" fill="#3b518b"/>
<path d="M231.6 504.2L240.3 513.2L245.4 504.8L236.8 496.1Z" fill="#2e6e8e"/>
<path d="M388.5 526.7L397.2 530.2L402.2 519.3L393.5 516.1Z" fill="#34608d"/>
<path d="M513.2 418.2L522.2 416.4L527 405.8L518 407.9Z" fill="#2eb37c"/>
<path d="M324.9 544.5L333.6 550.3L338.7 540L330 534.4Z" fill="#3c4f8a"/>
<path d="M374.8 533.5L383.5 537.5L388.5 526.7L379.8 523Z" fill="#375a8c"/>
<path d="M402.2 519.3L410.9 522.2L415.9 511.3L407.2 508.7Z" fill="#31668e"/>
<path d="M144.5 400.3L153.2 411.8L158.6 406.4L149.9 395.1Z" fill="#38b977"/>
<path d="M240.3 513.2L248.9 522L254.1 513.2L245.4 504.8Z" fill="#31688e"/>
<path d="M280.1 537L288.8 544.5L293.9 534.8L285.2 527.7Z" fill="#39558c"/>
<path d="M361.1 539.7L369.8 544.3L374.8 533.5L366.1 529.3Z" fill="#3a548c"/>
<path d="M462.1 472.8L470.9 473.3L475.8 462.4L467 462.2Z" fill="#238a8d"/>
<path d="M415.9 511.3L424.7 513.7L429.6 502.7L420.9 500.6Z" fill="#2e6d8e"/>
<path d="M135.7 388.4L144.5 400.3L149.9 395.1L141.2 383.6Z" fill="#48c16e"/>
<path d="M494.5 440.5L503.4 439.6L508.3 428.8L499.4 430.1Z" fill="#1fa287"/>
<path d="M347.3 545.3L356 550.4L361.1 539.7L352.4 534.9Z" fill="#3c508b"/>
<path d="M248.9 522L257.6 530.4L262.8 521.4L254.1 513.2Z" fill="#34618d"/>
<path d="M429.6 502.7L438.4 504.5L443.4 493.5L434.6 492Z" fill="#2c738e"/>
<path d="M311.2 548.4L319.9 554.8L324.9 544.5L316.3 538.4Z" fill="#3d4d8a"/>
<path d="M126.9 376.3L135.7 388.4L141.2 383.6L132.4 371.8Z" fill="#5cc863"/>
<path d="M288.8 544.5L297.4 551.7L302.5 541.7L293.9 534.8Z" fill="#3c508b"/>
<path d="M257.6 530.4L266.3 538.7L271.4 529.4L262.8 521.4Z" fill="#375b8d"/>
<path d="M333.6 550.3L342.3 556L347.3 545.3L338.7 540Z" fill="#3e4c8a"/>
<path d="M475.8 462.4L484.7 462.2L489.6 451.3L480.7 451.7Z" fill="#20928c"/>
<path d="M443.4 493.5L452.2 494.8L457.1 483.7L448.3 482.7Z" fill="#297b8e"/>
<path d="M527 405.8L536.1 403.3L540.9 392.7L531.9 395.4Z" fill="#3fbc73"/>
<path d="M118.1 363.9L126.9 376.3L132.4 371.8L123.7 359.7Z" fill="#73d056"/>
<path d="M266.3 538.7L275 546.7L280.1 537L271.4 529.4Z" fill="#39558c"/>
<path d="M383.5 537.5L392.2 541.3L397.2 530.2L388.5 526.7Z" fill="#38598c"/>
<path d="M508.3 428.8L517.3 427.2L522.2 416.4L513.2 418.2Z" fill="#26ad81"/>
<path d="M397.2 530.2L406 533.4L410.9 522.2L402.2 519.3Z" fill="#355f8d"/>
<path d="M369.8 544.3L378.5 548.6L383.5 537.5L374.8 533.5Z" fill="#3b528b"/>
<path d="M191.5 473L200.2 483.3L205.5 475.8L196.8 465.8Z" fill="#24868e"/>
<path d="M200.2 483.3L209 493.3L214.2 485.5L205.5 475.8Z" fill="#277f8e"/>
<path d="M297.4 551.7L306.1 558.6L311.2 548.4L302.5 541.7Z" fill="#3e4a89"/>
<path d="M319.9 554.8L328.6 560.9L333.6 550.3L324.9 544.5Z" fill="#3f4889"/>
<path d="M182.8 462.4L191.5 473L196.8 465.8L188.1 455.5Z" fill="#218e8d"/>
<path d="M209 493.3L217.7 503.1L222.9 495L214.2 485.5Z" fill="#2a778e"/>
<path d="M174.1 451.6L182.8 462.4L188.1 455.5L179.4 445Z" fill="#1f968b"/>
<path d="M457.1 483.7L466 484.4L470.9 473.3L462.1 472.8Z" fill="#25838e"/>
<path d="M410.9 522.2L419.7 524.9L424.7 513.7L415.9 511.3Z" fill="#31668e"/>
<path d="M356 550.4L364.7 555.2L369.8 544.3L361.1 539.7Z" fill="#3d4e8a"/>
<path d="M217.7 503.1L226.4 512.6L231.6 504.2L222.9 495Z" fill="#2d718e"/>
<path d="M109.3 351.3L118.1 363.9L123.7 359.7L114.9 347.4Z" fill="#8bd646"/>
<path d="M165.3 440.5L174.1 451.6L179.4 445L170.7 434.2Z" fill="#1f9e89"/>
<path d="M226.4 512.6L235.1 521.9L240.3 513.2L231.6 504.2Z" fill="#306a8e"/>
<path d="M489.6 451.3L498.6 450.6L503.4 439.6L494.5 440.5Z" fill="#1e9c89"/>
<path d="M275 546.7L283.6 554.4L288.8 544.5L280.1 537Z" fill="#3c4f8a"/>
<path d="M424.7 513.7L433.5 515.8L438.4 504.5L429.6 502.7Z" fill="#2e6d8e"/>
<path d="M342.3 556L351 561.3L356 550.4L347.3 545.3Z" fill="#3f4889"/>
<path d="M156.6 429.1L165.3 440.5L170.7 434.2L162 423.1Z" fill="#22a785"/>
<path d="M235.1 521.9L243.7 530.9L248.9 522L240.3 513.2Z" fill="#33638d"/>
<path d="M100.5 338.4L109.3 351.3L114.9 347.4L106.1 334.8Z" fill="#a8db34"/>
<path d="M306.1 558.6L314.8 565.3L319.9 554.8L311.2 548.4Z" fill="#404688"/>
<path d="M147.8 417.5L156.6 429.1L162 423.1L153.2 411.8Z" fill="#29af7f"/>
<path d="M243.7 530.9L252.4 539.7L257.6 530.4L248.9 522Z" fill="#365d8d"/>
<path d="M470.9 473.3L479.8 473.4L484.7 462.2L475.8 462.4Z" fill="#228c8d"/>
<path d="M438.4 504.5L447.3 506.1L452.2 494.8L443.4 493.5Z" fill="#2b748e"/>
<path d="M328.6 560.9L337.2 566.8L342.3 556L333.6 550.3Z" fill="#404588"/>
<path d="M283.6 554.4L292.3 561.9L297.4 551.7L288.8 544.5Z" fill="#3e4989"/>
<path d="M522.2 416.4L531.2 414.3L536.1 403.3L527 405.8Z" fill="#34b679"/>
<path d="M139 405.7L147.8 417.5L153.2 411.8L144.5 400.3Z" fill="#35b779"/>
<path d="M252.4 539.7L261.1 548.2L266.3 538.7L257.6 530.4Z" fill="#39558c"/>
<path d="M378.5 548.6L387.2 552.6L392.2 541.3L383.5 537.5Z" fill="#3b518b"/>
<path d="M392.2 541.3L401 544.8L406 533.4L397.2 530.2Z" fill="#38588c"/>
<path d="M503.4 439.6L512.4 438.3L517.3 427.2L508.3 428.8Z" fill="#21a685"/>
<path d="M364.7 555.2L373.5 559.8L378.5 548.6L369.8 544.3Z" fill="#3e4c8a"/>
<path d="M406 533.4L414.7 536.3L419.7 524.9L410.9 522.2Z" fill="#355f8d"/>
<path d="M452.2 494.8L461.1 495.8L466 484.4L457.1 483.7Z" fill="#287d8e"/>
<path d="M130.2 393.5L139 405.7L144.5 400.3L135.7 388.4Z" fill="#46c06f"/>
<path d="M314.8 565.3L323.5 571.8L328.6 560.9L319.9 554.8Z" fill="#424186"/>
<path d="M351 561.3L359.7 566.5L364.7 555.2L356 550.4Z" fill="#404688"/>
<path d="M292.3 561.9L301 569.1L306.1 558.6L297.4 551.7Z" fill="#414487"/>
<path d="M261.1 548.2L269.8 556.5L275 546.7L266.3 538.7Z" fill="#3c4f8a"/>
<path d="M484.7 462.2L493.7 461.9L498.6 450.6L489.6 451.3Z" fill="#1f958b"/>
<path d="M419.7 524.9L428.5 527.3L433.5 515.8L424.7 513.7Z" fill="#31668e"/>
<path d="M337.2 566.8L345.9 572.5L351 561.3L342.3 556Z" fill="#424186"/>
<path d="M121.4 381.1L130.2 393.5L135.7 388.4L126.9 376.3Z" fill="#5ac864"/>
<path d="M269.8 556.5L278.5 564.5L283.6 554.4L275 546.7Z" fill="#3e4989"/>
<path d="M466 484.4L474.9 484.9L479.8 473.4L470.9 473.3Z" fill="#25858e"/>
<path d="M433.5 515.8L442.3 517.7L447.3 506.1L438.4 504.5Z" fill="#2e6e8e"/>
<path d="M301 569.1L309.7 576.1L314.8 565.3L306.1 558.6Z" fill="#423f85"/>
<path d="M323.5 571.8L332.2 578L337.2 566.8L328.6 560.9Z" fill="#433d84"/>
<path d="M112.6 368.4L121.4 381.1L126.9 376.3L118.1 363.9Z" fill="#73d056"/>
<path d="M517.3 427.2L526.3 425.4L531.2 414.3L522.2 416.4Z" fill="#2cb17e"/>
<path d="M278.5 564.5L287.2 572.3L292.3 561.9L283.6 554.4Z" fill="#414287"/>
<path d="M373.5 559.8L382.2 564.2L387.2 552.6L378.5 548.6Z" fill="#3e4989"/>
<path d="M387.2 552.6L396 556.4L401 544.8L392.2 541.3Z" fill="#3c508b"/>
<path d="M359.7 566.5L368.4 571.4L373.5 559.8L364.7 555.2Z" fill="#414287"/>
<path d="M498.6 450.6L507.5 449.6L512.4 438.3L503.4 439.6Z" fill="#1fa088"/>
<path d="M401 544.8L409.7 548L414.7 536.3L406 533.4Z" fill="#39568c"/>
<path d="M447.3 506.1L456.1 507.4L461.1 495.8L452.2 494.8Z" fill="#2a768e"/>
<path d="M345.9 572.5L354.7 577.9L359.7 566.5L351 561.3Z" fill="#433e85"/>
<path d="M309.7 576.1L318.4 582.8L323.5 571.8L314.8 565.3Z" fill="#443983"/>
<path d="M103.7 355.4L112.6 368.4L118.1 363.9L109.3 351.3Z" fill="#8bd646"/>
<path d="M479.8 473.4L488.7 473.4L493.7 461.9L484.7 462.2Z" fill="#218f8d"/>
<path d="M287.2 572.3L295.9 579.8L301 569.1L292.3 561.9Z" fill="#433d84"/>
<path d="M414.7 536.3L423.5 539.1L428.5 527.3L419.7 524.9Z" fill="#355f8d"/>
<path d="M332.2 578L340.9 583.9L345.9 572.5L337.2 566.8Z" fill="#443983"/>
<path d="M461.1 495.8L469.9 496.6L474.9 484.9L466 484.4Z" fill="#277f8e"/>
<path d="M428.5 527.3L437.3 529.5L442.3 517.7L433.5 515.8Z" fill="#31678e"/>
<path d="M94.9 342.2L103.7 355.4L109.3 351.3L100.5 338.4Z" fill="#a8db34"/>
<path d="M295.9 579.8L304.6 587.1L309.7 576.1L301 569.1Z" fill="#453781"/>
<path d="M318.4 582.8L327.1 589.3L332.2 578L323.5 571.8Z" fill="#463480"/>
<path d="M512.4 438.3L521.4 436.8L526.3 425.4L517.3 427.2Z" fill="#25ab82"/>
<path d="M368.4 571.4L377.2 576L382.2 564.2L373.5 559.8Z" fill="#424086"/>
<path d="M382.2 564.2L391 568.3L396 556.4L387.2 552.6Z" fill="#3f4788"/>
<path d="M354.7 577.9L363.4 583.1L368.4 571.4L359.7 566.5Z" fill="#443a83"/>
<path d="M493.7 461.9L502.6 461.2L507.5 449.6L498.6 450.6Z" fill="#1f998a"/>
<path d="M396 556.4L404.7 560L409.7 548L401 544.8Z" fill="#3c4f8a"/>
<path d="M442.3 517.7L451.1 519.3L456.1 507.4L447.3 506.1Z" fill="#2e6f8e"/>
<path d="M340.9 583.9L349.6 589.6L354.7 577.9L345.9 572.5Z" fill="#463480"/>
<path d="M474.9 484.9L483.8 485.1L488.7 473.4L479.8 473.4Z" fill="#23888e"/>
<path d="M409.7 548L418.5 551L423.5 539.1L414.7 536.3Z" fill="#39568c"/>
<path d="M304.6 587.1L313.3 594.1L318.4 582.8L309.7 576.1Z" fill="#46307e"/>
<path d="M327.1 589.3L335.8 595.6L340.9 583.9L332.2 578Z" fill="#472f7d"/>
<path d="M423.5 539.1L432.3 541.5L437.3 529.5L428.5 527.3Z" fill="#355f8d"/>
<path d="M456.1 507.4L465 508.5L469.9 496.6L461.1 495.8Z" fill="#2a778e"/>
<path d="M313.3 594.1L322 600.9L327.1 589.3L318.4 582.8Z" fill="#472c7a"/>
<path d="M507.5 449.6L516.5 448.4L521.4 436.8L512.4 438.3Z" fill="#20a386"/>
<path d="M363.4 583.1L372.1 588L377.2 576L368.4 571.4Z" fill="#453882"/>
<path d="M377.2 576L385.9 580.4L391 568.3L382.2 564.2Z" fill="#423f85"/>
<path d="M349.6 589.6L358.3 595.1L363.4 583.1L354.7 577.9Z" fill="#46327e"/>
<path d="M391 568.3L399.7 572.1L404.7 560L396 556.4Z" fill="#404688"/>
<path d="M437.3 529.5L446.2 531.4L451.1 519.3L442.3 517.7Z" fill="#31678e"/>
<path d="M488.7 473.4L497.7 473L502.6 461.2L493.7 461.9Z" fill="#20928c"/>
<path d="M335.8 595.6L344.6 601.6L349.6 589.6L340.9 583.9Z" fill="#472c7a"/>
<path d="M404.7 560L413.5 563.3L418.5 551L409.7 548Z" fill="#3d4e8a"/>
<path d="M469.9 496.6L478.9 497.1L483.8 485.1L474.9 484.9Z" fill="#26818e"/>
<path d="M322 600.9L330.7 607.4L335.8 595.6L327.1 589.3Z" fill="#482677"/>
<path d="M418.5 551L427.4 553.8L432.3 541.5L423.5 539.1Z" fill="#39568c"/>
<path d="M451.1 519.3L460 520.7L465 508.5L456.1 507.4Z" fill="#2d718e"/>
<path d="M372.1 588L380.9 592.7L385.9 580.4L377.2 576Z" fill="#453581"/>
<path d="M358.3 595.1L367.1 600.3L372.1 588L363.4 583.1Z" fill="#472e7c"/>
<path d="M502.6 461.2L511.6 460.3L516.5 448.4L507.5 449.6Z" fill="#1e9d89"/>
<path d="M385.9 580.4L394.7 584.5L399.7 572.1L391 568.3Z" fill="#433d84"/>
<path d="M344.6 601.6L353.3 607.3L358.3 595.1L349.6 589.6Z" fill="#482878"/>
<path d="M432.3 541.5L441.2 543.7L446.2 531.4L437.3 529.5Z" fill="#355f8d"/>
<path d="M483.8 485.1L492.7 485.1L497.7 473L488.7 473.4Z" fill="#228b8d"/>
<path d="M399.7 572.1L408.5 575.7L413.5 563.3L404.7 560Z" fill="#404588"/>
<path d="M330.7 607.4L339.5 613.7L344.6 601.6L335.8 595.6Z" fill="#482173"/>
<path d="M465 508.5L473.9 509.3L478.9 497.1L469.9 496.6Z" fill="#29798e"/>
<path d="M413.5 563.3L422.3 566.3L427.4 553.8L418.5 551Z" fill="#3d4e8a"/>
<path d="M446.2 531.4L455 533.1L460 520.7L451.1 519.3Z" fill="#30698e"/>
<path d="M367.1 600.3L375.9 605.3L380.9 592.7L372.1 588Z" fill="#472a7a"/>
<path d="M353.3 607.3L362 612.8L367.1 600.3L358.3 595.1Z" fill="#482475"/>
<path d="M380.9 592.7L389.7 597.2L394.7 584.5L385.9 580.4Z" fill="#46337f"/>
<path d="M427.4 553.8L436.2 556.3L441.2 543.7L432.3 541.5Z" fill="#39568c"/>
<path d="M497.7 473L506.7 472.4L511.6 460.3L502.6 461.2Z" fill="#1f958b"/>
<path d="M339.5 613.7L348.2 619.8L353.3 607.3L344.6 601.6Z" fill="#481d6f"/>
<path d="M478.9 497.1L487.8 497.4L492.7 485.1L483.8 485.1Z" fill="#25838e"/>
<path d="M394.7 584.5L403.5 588.4L408.5 575.7L399.7 572.1Z" fill="#443b84"/>
<path d="M460 520.7L468.9 521.8L473.9 509.3L465 508.5Z" fill="#2c718e"/>
<path d="M408.5 575.7L417.3 579.1L422.3 566.3L413.5 563.3Z" fill="#414487"/>
<path d="M441.2 543.7L450.1 545.7L455 533.1L446.2 531.4Z" fill="#34608d"/>
<path d="M362 612.8L370.8 618.1L375.9 605.3L367.1 600.3Z" fill="#482071"/>
<path d="M348.2 619.8L357 625.6L362 612.8L353.3 607.3Z" fill="#48186a"/>
<path d="M375.9 605.3L384.6 610L389.7 597.2L380.9 592.7Z" fill="#482878"/>
<path d="M422.3 566.3L431.2 569.1L436.2 556.3L427.4 553.8Z" fill="#3d4e8a"/>
<path d="M492.7 485.1L501.7 484.8L506.7 472.4L497.7 473Z" fill="#218e8d"/>
<path d="M473.9 509.3L482.8 509.9L487.8 497.4L478.9 497.1Z" fill="#287c8e"/>
<path d="M389.7 597.2L398.5 601.3L403.5 588.4L394.7 584.5Z" fill="#46307e"/>
<path d="M455 533.1L463.9 534.5L468.9 521.8L460 520.7Z" fill="#306a8e"/>
<path d="M403.5 588.4L412.3 592.1L417.3 579.1L408.5 575.7Z" fill="#443a83"/>
<path d="M436.2 556.3L445.1 558.6L450.1 545.7L441.2 543.7Z" fill="#38588c"/>
<path d="M357 625.6L365.7 631.1L370.8 618.1L362 612.8Z" fill="#481467"/>
<path d="M370.8 618.1L379.6 623.1L384.6 610L375.9 605.3Z" fill="#481d6f"/>
<path d="M417.3 579.1L426.2 582.2L431.2 569.1L422.3 566.3Z" fill="#414487"/>
<path d="M384.6 610L393.4 614.5L398.5 601.3L389.7 597.2Z" fill="#482677"/>
<path d="M487.8 497.4L496.8 497.3L501.7 484.8L492.7 485.1Z" fill="#24868e"/>
<path d="M468.9 521.8L477.9 522.6L482.8 509.9L473.9 509.3Z" fill="#2c738e"/>
<path d="M450.1 545.7L458.9 547.4L463.9 534.5L455 533.1Z" fill="#34618d"/>
<path d="M398.5 601.3L407.3 605.3L412.3 592.1L403.5 588.4Z" fill="#472f7d"/>
<path d="M431.2 569.1L440 571.7L445.1 558.6L436.2 556.3Z" fill="#3d4e8a"/>
<path d="M365.7 631.1L374.5 636.5L379.6 623.1L370.8 618.1Z" fill="#471164"/>
<path d="M412.3 592.1L421.1 595.5L426.2 582.2L417.3 579.1Z" fill="#443983"/>
<path d="M379.6 623.1L388.4 627.9L393.4 614.5L384.6 610Z" fill="#481b6d"/>
<path d="M482.8 509.9L491.8 510.2L496.8 497.3L487.8 497.4Z" fill="#277e8e"/>
<path d="M463.9 534.5L472.9 535.6L477.9 522.6L468.9 521.8Z" fill="#2f6c8e"/>
<path d="M445.1 558.6L453.9 560.6L458.9 547.4L450.1 545.7Z" fill="#38598c"/>
<path d="M393.4 614.5L402.2 618.7L407.3 605.3L398.5 601.3Z" fill="#482475"/>
<path d="M426.2 582.2L435 585L440 571.7L431.2 569.1Z" fill="#414487"/>
<path d="M407.3 605.3L416.1 609L421.1 595.5L412.3 592.1Z" fill="#472e7c"/>
<path d="M374.5 636.5L383.3 641.5L388.4 627.9L379.6 623.1Z" fill="#470d60"/>
<path d="M458.9 547.4L467.9 548.9L472.9 535.6L463.9 534.5Z" fill="#33638d"/>
<path d="M477.9 522.6L486.8 523.2L491.8 510.2L482.8 509.9Z" fill="#2b758e"/>
<path d="M440 571.7L448.9 574L453.9 560.6L445.1 558.6Z" fill="#3d4e8a"/>
<path d="M388.4 627.9L397.2 632.4L402.2 618.7L393.4 614.5Z" fill="#48186a"/>
<path d="M421.1 595.5L430 598.6L435 585L426.2 582.2Z" fill="#443983"/>
<path d="M402.2 618.7L411.1 622.7L416.1 609L407.3 605.3Z" fill="#482374"/>
<path d="M453.9 560.6L462.9 562.4L467.9 548.9L458.9 547.4Z" fill="#375a8c"/>
<path d="M383.3 641.5L392.1 646.4L397.2 632.4L388.4 627.9Z" fill="#460a5d"/>
<path d="M435 585L443.9 587.7L448.9 574L440 571.7Z" fill="#414487"/>
<path d="M472.9 535.6L481.8 536.6L486.8 523.2L477.9 522.6Z" fill="#2e6d8e"/>
<path d="M416.1 609L425 612.4L430 598.6L421.1 595.5Z" fill="#472d7b"/>
<path d="M397.2 632.4L406 636.7L411.1 622.7L402.2 618.7Z" fill="#481668"/>
<path d="M448.9 574L457.8 576.1L462.9 562.4L453.9 560.6Z" fill="#3c4f8a"/>
<path d="M430 598.6L438.9 601.5L443.9 587.7L435 585Z" fill="#443983"/>
<path d="M467.9 548.9L476.8 550.1L481.8 536.6L472.9 535.6Z" fill="#32648e"/>
<path d="M411.1 622.7L419.9 626.5L425 612.4L416.1 609Z" fill="#482173"/>
<path d="M392.1 646.4L401 650.9L406 636.7L397.2 632.4Z" fill="#46075a"/>
<path d="M425 612.4L433.8 615.6L438.9 601.5L430 598.6Z" fill="#472d7b"/>
<path d="M443.9 587.7L452.8 590L457.8 576.1L448.9 574Z" fill="#404588"/>
<path d="M406 636.7L414.9 640.8L419.9 626.5L411.1 622.7Z" fill="#481467"/>
<path d="M462.9 562.4L471.8 563.9L476.8 550.1L467.9 548.9Z" fill="#375b8d"/>
<path d="M419.9 626.5L428.8 630L433.8 615.6L425 612.4Z" fill="#482071"/>
<path d="M438.9 601.5L447.8 604.2L452.8 590L443.9 587.7Z" fill="#443983"/>
<path d="M401 650.9L409.8 655.3L414.9 640.8L406 636.7Z" fill="#450559"/>
<path d="M457.8 576.1L466.8 577.9L471.8 563.9L462.9 562.4Z" fill="#3c508b"/>
<path d="M414.9 640.8L423.7 644.6L428.8 630L419.9 626.5Z" fill="#471365"/>
<path d="M433.8 615.6L442.7 618.6L447.8 604.2L438.9 601.5Z" fill="#472d7b"/>
<path d="M452.8 590L461.7 592.1L466.8 577.9L457.8 576.1Z" fill="#404588"/>
<path d="M409.8 655.3L418.7 659.4L423.7 644.6L414.9 640.8Z" fill="#440256"/>
<path d="M428.8 630L437.7 633.2L442.7 618.6L433.8 615.6Z" fill="#482071"/>
<path d="M447.8 604.2L456.7 606.6L461.7 592.1L452.8 590Z" fill="#443983"/>
<path d="M423.7 644.6L432.6 648.1L437.7 633.2L428.8 630Z" fill="#471164"/>
<path d="M442.7 618.6L451.7 621.3L456.7 606.6L447.8 604.2Z" fill="#472d7b"/>
<path d="M418.7 659.4L427.6 663.2L432.6 648.1L423.7 644.6Z" fill="#440154"/>
<path d="M437.7 633.2L446.6 636.2L451.7 621.3L442.7 618.6Z" fill="#481f70"/>
<path d="M432.6 648.1L441.5 651.4L446.6 636.2L437.7 633.2Z" fill="#471164"/>
<path d="M427.6 663.2L436.5 666.8L441.5 651.4L432.6 648.1Z" fill="#440154"/>
</g>
<g id="points-top" fill="#ff0000" stroke="#8b0000" stroke-width="1.04">
<circle cx="579.5" cy="326.5" r="5.7"/>
</g>
<g id="axislabels">
<text transform="translate(213.2 729.9) rotate(18.1)" y="4.9" font-size="19.7" text-anchor="middle" textLength="138.1" lengthAdjust="spacingAndGlyphs">oven_temp (C)</text>
<text transform="translate(617.4 666.4) rotate(-45.7)" y="4.9" font-size="19.7" text-anchor="middle" textLength="156.5" lengthAdjust="spacingAndGlyphs">proof_time (min)</text>
<text transform="translate(751.6 351.2) rotate(-87.4)" y="4.9" font-size="19.7" text-anchor="middle" textLength="157" lengthAdjust="spacingAndGlyphs">crust_score (pts)</text>
</g>
<g id="title" font-size="24" text-anchor="middle">
<text x="354.5" y="33.2" textLength="349.8" lengthAdjust="spacingAndGlyphs">Response Surface: crust_score</text>
<text x="354.5" y="60.7" textLength="290.4" lengthAdjust="spacingAndGlyphs">oven_temp vs proof_time</text>
</g>
<defs><linearGradient id="vg" x1="0" y1="1" x2="0" y2="0">
<stop offset="0%" stop-color="#440154"/>
<stop offset="4.2%" stop-color="#471063"/>
<stop offset="8.3%" stop-color="#481f70"/>
<stop offset="12.5%" stop-color="#472d7b"/>
<stop offset="16.7%" stop-color="#443983"/>
<stop offset="20.8%" stop-color="#404688"/>
<stop offset="25%" stop-color="#3b528b"/>
<stop offset="29.2%" stop-color="#365d8d"/>
<stop offset="33.3%" stop-color="#31688e"/>
<stop offset="37.5%" stop-color="#2c728e"/>
<stop offset="41.7%" stop-color="#287c8e"/>
<stop offset="45.8%" stop-color="#24868e"/>
<stop offset="50%" stop-color="#21918c"/>
<stop offset="54.2%" stop-color="#1f9a8a"/>
<stop offset="58.3%" stop-color="#20a486"/>
<stop offset="62.5%" stop-color="#28ae80"/>
<stop offset="66.7%" stop-color="#35b779"/>
<stop offset="70.8%" stop-color="#48c16e"/>
<stop offset="75%" stop-color="#5ec962"/>
<stop offset="79.2%" stop-color="#75d054"/>
<stop offset="83.3%" stop-color="#90d743"/>
<stop offset="87.5%" stop-color="#addc30"/>
<stop offset="91.7%" stop-color="#c8e020"/>
<stop offset="95.8%" stop-color="#e5e419"/>
<stop offset="100%" stop-color="#fde725"/>
</linearGradient></defs>
<g id="colorbar">
<rect x="805" y="237" width="35" height="347" fill="url(#vg)" fill-opacity=".85"/>
<rect x="805" y="237" width="35" height="347" fill="none" stroke="#000" stroke-width="1.67"/>
<g stroke="#000" stroke-width="1.67">
<path d="M840.1 533h7.3"/>
<path d="M840.1 454h7.3"/>
<path d="M840.1 374h7.3"/>
<path d="M840.1 294h7.3"/>
</g>
<g font-size="22.1">
<text x="855.5" y="541.7" textLength="11.8" lengthAdjust="spacingAndGlyphs">4</text>
<text x="855.5" y="462" textLength="11.8" lengthAdjust="spacingAndGlyphs">5</text>
<text x="855.5" y="382.4" textLength="11.8" lengthAdjust="spacingAndGlyphs">6</text>
<text x="855.5" y="302.8" textLength="11.8" lengthAdjust="spacingAndGlyphs">7</text>
</g></g>
</svg>
</body>
</html>
